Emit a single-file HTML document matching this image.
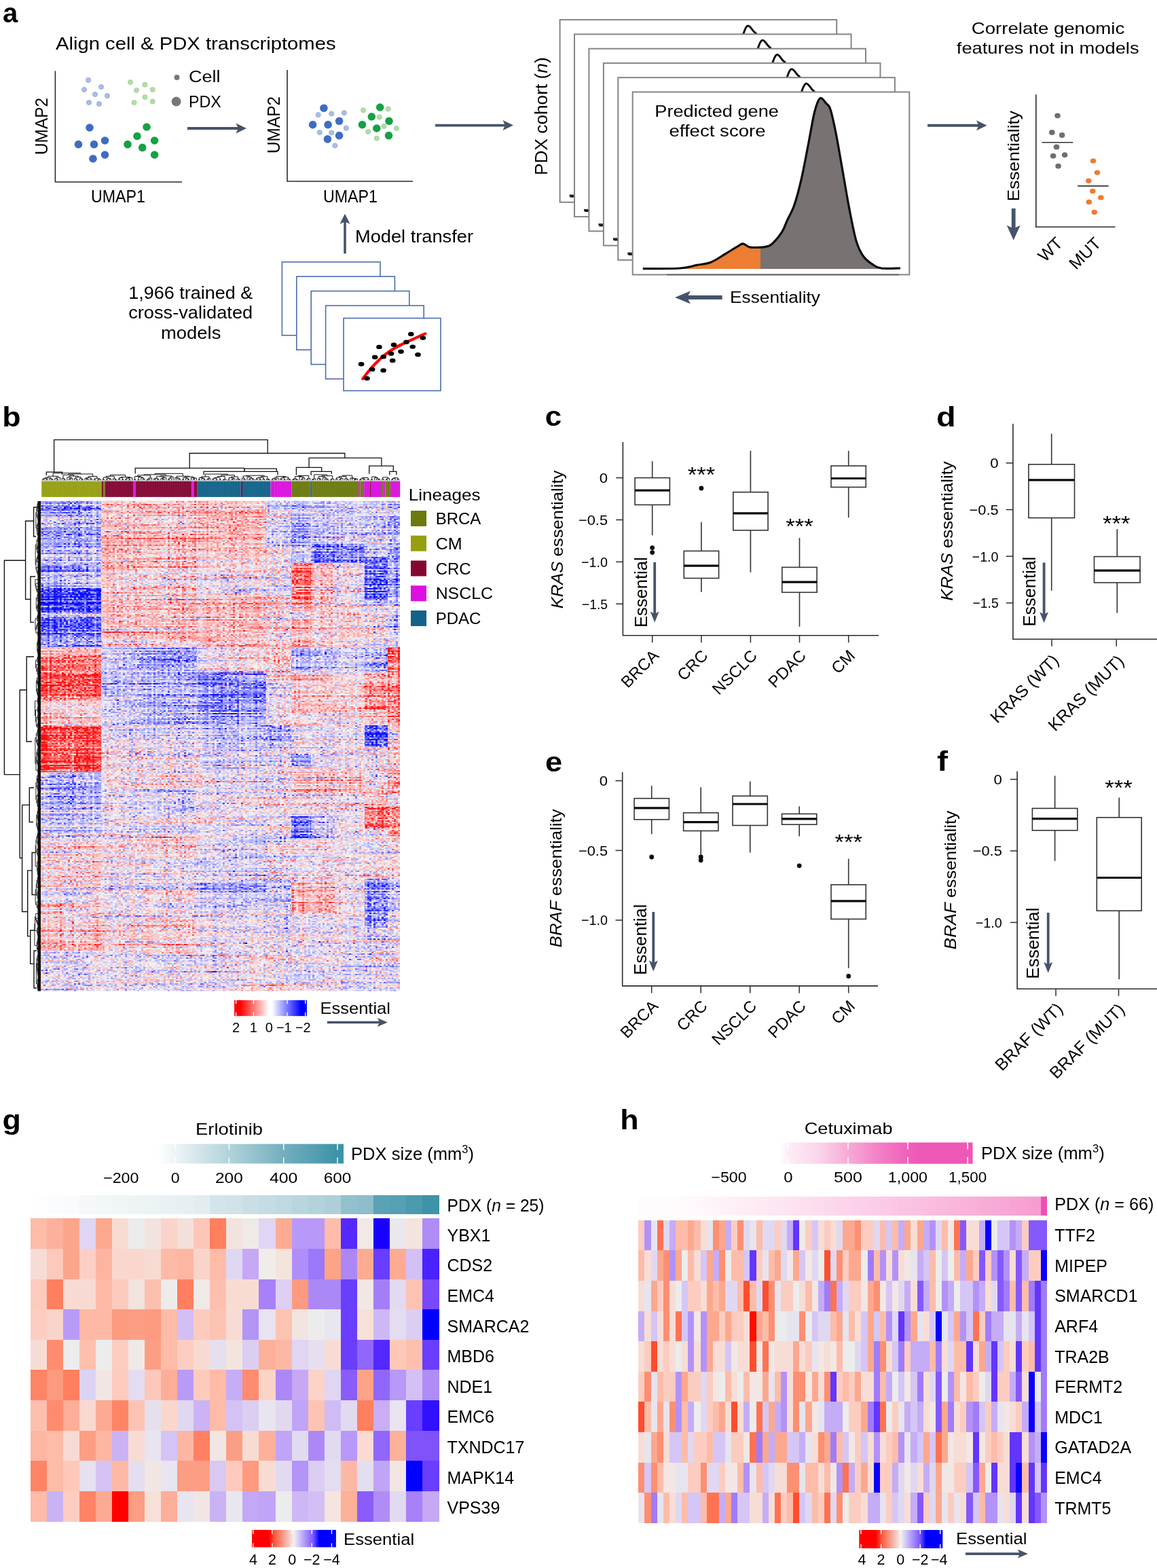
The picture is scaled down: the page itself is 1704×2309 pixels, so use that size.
<!DOCTYPE html>
<html><head><meta charset="utf-8"><title>Figure</title>
<style>html,body{margin:0;padding:0;background:#fff}svg{display:block}
text{font-family:'Liberation Sans', Arial, sans-serif}</style></head>
<body><svg width="1704" height="2309" viewBox="0 0 1704 2309">
<defs><clipPath id="orclip"><rect x="900" y="100" width="219.9" height="320"/></clipPath>
<filter id="hmf" x="56" y="733" width="537" height="731" filterUnits="userSpaceOnUse" color-interpolation-filters="sRGB">
<feTurbulence type="fractalNoise" baseFrequency="0.32 0.45" numOctaves="2" seed="7" result="n1"/>
<feTurbulence type="fractalNoise" baseFrequency="0.006 0.45" numOctaves="2" seed="11" result="n2"/>
<feTurbulence type="fractalNoise" baseFrequency="0.38 0.004" numOctaves="1" seed="4" result="n3"/>
<feComposite in="n1" in2="n2" operator="arithmetic" k2="0.55" k3="0.45" result="m1"/>
<feComposite in="m1" in2="n3" operator="arithmetic" k2="0.78" k3="0.22" result="m2"/>
<feColorMatrix in="m2" type="matrix" values="1 0 0 0 0  1 0 0 0 0  1 0 0 0 0  0 0 0 0 1" result="mg0"/>
<feFlood x="56" y="733" width="1" height="1" flood-color="#fff" flood-opacity="1" result="dot"/>
<feComposite in="dot" in2="dot" operator="over" x="56" y="733" width="3" height="2" result="cell"/>
<feTile in="cell" result="grid"/>
<feComposite in="mg0" in2="grid" operator="in" result="smp"/>
<feConvolveMatrix in="smp" order="3 2" kernelMatrix="1 1 1 1 1 1" divisor="1" targetX="1" targetY="0" edgeMode="none" result="mg"/>
<feComposite in="SourceGraphic" in2="mg" operator="arithmetic" k2="1" k3="2.0" k4="-1.0" result="v"/>
<feComponentTransfer in="v">
<feFuncR type="table" tableValues="0.05 0.6 0.96 1 1"/>
<feFuncG type="table" tableValues="0.05 0.6 0.96 0.6 0.05"/>
<feFuncB type="table" tableValues="1 1 0.96 0.6 0.05"/>
</feComponentTransfer>
</filter>
<clipPath id="hmclip"><rect x="60" y="737.4" width="529" height="722.1"/></clipPath>
<linearGradient id="gb" x1="0" x2="1" y1="0" y2="0">
<stop offset="0" stop-color="#ff0000"/><stop offset="0.08" stop-color="#ff0000"/><stop offset="0.48" stop-color="#ffffff"/>
<stop offset="0.52" stop-color="#ffffff"/><stop offset="0.92" stop-color="#0000ff"/><stop offset="1" stop-color="#0000ff"/></linearGradient>
<linearGradient id="gg" x1="0" x2="1" y1="0" y2="0">
<stop offset="0" stop-color="#ffffff"/><stop offset="0.097" stop-color="#edf4f6"/><stop offset="0.385" stop-color="#b2d3db"/>
<stop offset="0.677" stop-color="#74afbf"/><stop offset="0.965" stop-color="#3d93a8"/><stop offset="1" stop-color="#3d93a8"/></linearGradient>
<linearGradient id="gk" x1="0" x2="1" y1="0" y2="0">
<stop offset="0" stop-color="#ff0000"/><stop offset="0.2" stop-color="#ff0000"/><stop offset="0.27" stop-color="#fb5a3c"/>
<stop offset="0.5" stop-color="#f2f0f0"/><stop offset="0.73" stop-color="#7a55ff"/><stop offset="0.8" stop-color="#0000ff"/>
<stop offset="1" stop-color="#0000ff"/></linearGradient>
<linearGradient id="gh" x1="0" x2="1" y1="0" y2="0">
<stop offset="0" stop-color="#ffffff"/><stop offset="0.04" stop-color="#fdedf6"/><stop offset="0.2" stop-color="#fbd5ea"/>
<stop offset="0.352" stop-color="#f7aad7"/><stop offset="0.5" stop-color="#f383c8"/><stop offset="0.662" stop-color="#ef60b9"/>
<stop offset="0.72" stop-color="#ee58b7"/><stop offset="1" stop-color="#ee58b7"/></linearGradient></defs>
<rect width="1704" height="2309" fill="#fff"/>
<text transform="translate(4 33) scale(1.0 1)" x="0" y="0" font-size="40" font-weight="bold" fill="#000">a</text>
<text transform="translate(3.3 627.6) scale(1.12 1)" x="0" y="0" font-size="40" font-weight="bold" fill="#000">b</text>
<text transform="translate(802.8 627) scale(1.1 1)" x="0" y="0" font-size="40" font-weight="bold" fill="#000">c</text>
<text transform="translate(1379 628) scale(1.17 1)" x="0" y="0" font-size="40" font-weight="bold" fill="#000">d</text>
<text transform="translate(803.1 1136) scale(1.13 1)" x="0" y="0" font-size="40" font-weight="bold" fill="#000">e</text>
<text transform="translate(1380.1 1135.3) scale(1.2 1)" x="0" y="0" font-size="40" font-weight="bold" fill="#000">f</text>
<text transform="translate(3.5 1663) scale(1.12 1)" x="0" y="0" font-size="40" font-weight="bold" fill="#000">g</text>
<text transform="translate(913.3 1663) scale(1.12 1)" x="0" y="0" font-size="40" font-weight="bold" fill="#000">h</text>
<text x="82" y="72.6" font-size="26.4" textLength="412.6" lengthAdjust="spacingAndGlyphs">Align cell &amp; PDX transcriptomes</text>
<path d="M81.4 104.6V268H268" fill="none" stroke="#2b2b2b" stroke-width="1.6"/>
<text transform="translate(70 186) rotate(-90)" x="0" y="0" font-size="25" text-anchor="middle" textLength="84" lengthAdjust="spacingAndGlyphs">UMAP2</text>
<text x="174" y="298" font-size="25" text-anchor="middle" textLength="80" lengthAdjust="spacingAndGlyphs">UMAP1</text>
<circle cx="130" cy="118" r="3.6" fill="#aabde4" stroke="#8fa8d8" stroke-width="0.8"/>
<circle cx="149" cy="128" r="3.6" fill="#aabde4" stroke="#8fa8d8" stroke-width="0.8"/>
<circle cx="124" cy="132" r="3.6" fill="#aabde4" stroke="#8fa8d8" stroke-width="0.8"/>
<circle cx="140" cy="139" r="3.6" fill="#aabde4" stroke="#8fa8d8" stroke-width="0.8"/>
<circle cx="158" cy="141" r="3.6" fill="#aabde4" stroke="#8fa8d8" stroke-width="0.8"/>
<circle cx="131" cy="151" r="3.6" fill="#aabde4" stroke="#8fa8d8" stroke-width="0.8"/>
<circle cx="146" cy="153" r="3.6" fill="#aabde4" stroke="#8fa8d8" stroke-width="0.8"/>
<circle cx="192" cy="121" r="3.6" fill="#b4dca9" stroke="#9ccf8f" stroke-width="0.8"/>
<circle cx="213.5" cy="124.7" r="3.6" fill="#b4dca9" stroke="#9ccf8f" stroke-width="0.8"/>
<circle cx="224.7" cy="132" r="3.6" fill="#b4dca9" stroke="#9ccf8f" stroke-width="0.8"/>
<circle cx="201" cy="133" r="3.6" fill="#b4dca9" stroke="#9ccf8f" stroke-width="0.8"/>
<circle cx="213.5" cy="143" r="3.6" fill="#b4dca9" stroke="#9ccf8f" stroke-width="0.8"/>
<circle cx="197.6" cy="151" r="3.6" fill="#b4dca9" stroke="#9ccf8f" stroke-width="0.8"/>
<circle cx="224.7" cy="149.4" r="3.6" fill="#b4dca9" stroke="#9ccf8f" stroke-width="0.8"/>
<circle cx="132" cy="188" r="5.8" fill="#3f6bc3"/>
<circle cx="154.5" cy="207" r="5.8" fill="#3f6bc3"/>
<circle cx="115.5" cy="212.6" r="5.8" fill="#3f6bc3"/>
<circle cx="138.5" cy="212.6" r="5.8" fill="#3f6bc3"/>
<circle cx="154.5" cy="228" r="5.8" fill="#3f6bc3"/>
<circle cx="137" cy="233.7" r="5.8" fill="#3f6bc3"/>
<circle cx="216" cy="187" r="5.8" fill="#17a045"/>
<circle cx="202" cy="200.5" r="5.8" fill="#17a045"/>
<circle cx="227.6" cy="207" r="5.8" fill="#17a045"/>
<circle cx="188" cy="212.6" r="5.8" fill="#17a045"/>
<circle cx="209.7" cy="217.4" r="5.8" fill="#17a045"/>
<circle cx="227.6" cy="228" r="5.8" fill="#17a045"/>
<circle cx="260.5" cy="114" r="4" fill="#777"/>
<circle cx="259.6" cy="149.6" r="7" fill="#777"/>
<text x="278" y="120.5" font-size="24.4" textLength="46.5" lengthAdjust="spacingAndGlyphs">Cell</text>
<text x="278" y="158" font-size="24.4" textLength="47.7" lengthAdjust="spacingAndGlyphs">PDX</text>
<line x1="276" y1="189" x2="351.9" y2="189" stroke="#46536b" stroke-width="3.9"/>
<polygon points="363,189 347.5,196.5 350.9,189 347.5,181.5" fill="#46536b"/>
<path d="M423 103V267H608" fill="none" stroke="#2b2b2b" stroke-width="1.6"/>
<text transform="translate(411.5 184) rotate(-90)" x="0" y="0" font-size="25" text-anchor="middle" textLength="84" lengthAdjust="spacingAndGlyphs">UMAP2</text>
<text x="516" y="298" font-size="25" text-anchor="middle" textLength="80" lengthAdjust="spacingAndGlyphs">UMAP1</text>
<circle cx="468.6" cy="169.1" r="3.6" fill="#aabde4" stroke="#8fa8d8" stroke-width="0.8"/>
<circle cx="488.2" cy="167.4" r="3.6" fill="#aabde4" stroke="#8fa8d8" stroke-width="0.8"/>
<circle cx="506.9" cy="166.2" r="3.6" fill="#aabde4" stroke="#8fa8d8" stroke-width="0.8"/>
<circle cx="509.8" cy="188.7" r="3.6" fill="#aabde4" stroke="#8fa8d8" stroke-width="0.8"/>
<circle cx="470.8" cy="195" r="3.6" fill="#aabde4" stroke="#8fa8d8" stroke-width="0.8"/>
<circle cx="488.2" cy="195.5" r="3.6" fill="#aabde4" stroke="#8fa8d8" stroke-width="0.8"/>
<circle cx="493.3" cy="214.4" r="3.6" fill="#aabde4" stroke="#8fa8d8" stroke-width="0.8"/>
<circle cx="535" cy="162.3" r="3.6" fill="#b4dca9" stroke="#9ccf8f" stroke-width="0.8"/>
<circle cx="571.8" cy="160.4" r="3.6" fill="#b4dca9" stroke="#9ccf8f" stroke-width="0.8"/>
<circle cx="558.7" cy="172.5" r="3.6" fill="#b4dca9" stroke="#9ccf8f" stroke-width="0.8"/>
<circle cx="565.5" cy="186" r="3.6" fill="#b4dca9" stroke="#9ccf8f" stroke-width="0.8"/>
<circle cx="583.9" cy="189" r="3.6" fill="#b4dca9" stroke="#9ccf8f" stroke-width="0.8"/>
<circle cx="542.2" cy="194" r="3.6" fill="#b4dca9" stroke="#9ccf8f" stroke-width="0.8"/>
<circle cx="554.8" cy="203.7" r="3.6" fill="#b4dca9" stroke="#9ccf8f" stroke-width="0.8"/>
<circle cx="476.9" cy="159.2" r="5.8" fill="#3f6bc3"/>
<circle cx="460.6" cy="183.6" r="5.8" fill="#3f6bc3"/>
<circle cx="483.1" cy="183.6" r="5.8" fill="#3f6bc3"/>
<circle cx="499.6" cy="178.3" r="5.8" fill="#3f6bc3"/>
<circle cx="499.6" cy="199.6" r="5.8" fill="#3f6bc3"/>
<circle cx="482.4" cy="204.9" r="5.8" fill="#3f6bc3"/>
<circle cx="559.7" cy="158" r="5.8" fill="#17a045"/>
<circle cx="547.3" cy="171.8" r="5.8" fill="#17a045"/>
<circle cx="573" cy="178.3" r="5.8" fill="#17a045"/>
<circle cx="533.5" cy="183.6" r="5.8" fill="#17a045"/>
<circle cx="554.8" cy="189" r="5.8" fill="#17a045"/>
<circle cx="572.5" cy="199.6" r="5.8" fill="#17a045"/>
<line x1="641" y1="184.6" x2="744.9" y2="184.6" stroke="#46536b" stroke-width="3.9"/>
<polygon points="756,184.6 740.5,192.1 743.9,184.6 740.5,177.1" fill="#46536b"/>
<line x1="508" y1="373.5" x2="508" y2="325.5" stroke="#46536b" stroke-width="3.6"/>
<polygon points="508,314.8 515.5,329.8 508,326.5 500.5,329.8" fill="#46536b"/>
<text x="523" y="356.5" font-size="25" textLength="174" lengthAdjust="spacingAndGlyphs">Model transfer</text>
<text x="280.7" y="439.5" font-size="25" text-anchor="middle" textLength="183" lengthAdjust="spacingAndGlyphs">1,966 trained &amp;</text>
<text x="280.7" y="469" font-size="25" text-anchor="middle" textLength="183" lengthAdjust="spacingAndGlyphs">cross-validated</text>
<text x="281.2" y="498.5" font-size="25" text-anchor="middle" textLength="88.3" lengthAdjust="spacingAndGlyphs">models</text>
<rect x="415.4" y="385.8" width="144.6" height="108" fill="#fff" stroke="#4d6dad" stroke-width="1.6"/>
<rect x="436.8" y="407.2" width="144.6" height="108" fill="#fff" stroke="#4d6dad" stroke-width="1.6"/>
<rect x="458.2" y="428.6" width="144.6" height="108" fill="#fff" stroke="#4d6dad" stroke-width="1.6"/>
<rect x="479.6" y="450" width="144.6" height="108" fill="#fff" stroke="#4d6dad" stroke-width="1.6"/>
<rect x="506" y="468.6" width="143" height="106.8" fill="#fff" stroke="#4d6dad" stroke-width="1.6"/>
<path d="M534.3 557.8 Q560 522 590 508 T626.3 491.4" fill="none" stroke="#f00" stroke-width="4.2" stroke-linecap="round"/>
<ellipse cx="532.1" cy="536.2" rx="4.3" ry="3.2" fill="#000"/>
<ellipse cx="540.5" cy="557.2" rx="4.3" ry="3.2" fill="#000"/>
<ellipse cx="548.2" cy="543.9" rx="4.3" ry="3.2" fill="#000"/>
<ellipse cx="552.2" cy="526" rx="4.3" ry="3.2" fill="#000"/>
<ellipse cx="558.4" cy="510.9" rx="4.3" ry="3.2" fill="#000"/>
<ellipse cx="564.6" cy="545.4" rx="4.3" ry="3.2" fill="#000"/>
<ellipse cx="564.6" cy="525.4" rx="4.3" ry="3.2" fill="#000"/>
<ellipse cx="576" cy="520.7" rx="4.3" ry="3.2" fill="#000"/>
<ellipse cx="578.2" cy="530.9" rx="4.3" ry="3.2" fill="#000"/>
<ellipse cx="580" cy="507.8" rx="4.3" ry="3.2" fill="#000"/>
<ellipse cx="590.5" cy="517.7" rx="4.3" ry="3.2" fill="#000"/>
<ellipse cx="598.5" cy="503.8" rx="4.3" ry="3.2" fill="#000"/>
<ellipse cx="605.3" cy="492" rx="4.3" ry="3.2" fill="#000"/>
<ellipse cx="607.8" cy="510.6" rx="4.3" ry="3.2" fill="#000"/>
<ellipse cx="615.5" cy="522.3" rx="4.3" ry="3.2" fill="#000"/>
<ellipse cx="622.9" cy="497.6" rx="4.3" ry="3.2" fill="#000"/>
<rect x="824.6" y="29.1" width="407.6" height="268.7" fill="#fff" stroke="#858585" stroke-width="2"/>
<path d="M839.7 289.3C848.8 289.2 880.9 289.5 894.1 288.6C907.3 287.7 911.1 285.5 918.7 284C926.3 282.5 932.8 282.5 939.8 279.8C946.8 277.1 954.5 271.4 960.9 267.6C967.3 263.8 974 259.5 978.4 257C982.8 254.5 984 252.3 987.2 252.4C990.4 252.5 992.1 256.9 997.7 257.7C1003.2 258.5 1014.9 258 1020.5 257C1026 256 1026.9 255.5 1031 251.7C1035.1 247.9 1041.6 239.8 1045.1 234.2C1048.6 228.7 1049.2 224.8 1052.1 218.4C1055 212 1059.2 205.8 1062.7 195.6C1066.2 185.3 1069.7 172.1 1073.2 156.9C1076.7 141.7 1080.5 120.7 1083.7 104.3C1086.9 87.9 1089.7 69.6 1092.5 58.6C1095.3 47.6 1097.7 40.3 1100.6 38.3C1103.5 36.2 1107.5 43.5 1110.1 46.3C1112.7 49.1 1113.7 47.8 1116 55.1C1118.3 62.4 1121.3 76.1 1124.1 90.2C1126.9 104.2 1129.7 121.2 1132.9 139.4C1136.1 157.6 1139.9 181 1143.4 199.1C1146.9 217.2 1150.4 236.2 1153.9 248.2C1157.4 260.2 1160.4 265.2 1164.5 271.1C1168.6 277 1174.1 280.4 1178.5 283.3C1182.9 286.2 1184.1 287.7 1190.8 288.6C1197.5 289.5 1214.2 288.6 1218.9 288.6" fill="none" stroke="#111" stroke-width="3"/>
<line x1="838.6" y1="288.1" x2="845.1" y2="288.1" stroke="#222" stroke-width="3"/>
<rect x="846" y="50.4" width="407.6" height="268.7" fill="#fff" stroke="#858585" stroke-width="2"/>
<path d="M861.1 310.6C870.2 310.5 902.4 310.8 915.5 309.9C928.7 309 932.5 306.7 940.1 305.3C947.7 303.8 954.2 303.8 961.2 301.1C968.3 298.3 975.9 292.7 982.3 288.9C988.8 285.1 995.4 280.8 999.8 278.3C1004.2 275.7 1005.4 273.6 1008.6 273.7C1011.8 273.8 1013.6 278.2 1019.1 279C1024.7 279.7 1036.4 279.3 1041.9 278.3C1047.5 277.3 1048.3 276.8 1052.4 273C1056.5 269.2 1063 261 1066.5 255.5C1070 249.9 1070.6 246.1 1073.5 239.7C1076.5 233.2 1080.6 227.1 1084.1 216.9C1087.6 206.6 1091.1 193.4 1094.6 178.2C1098.1 163 1101.9 142 1105.1 125.6C1108.3 109.2 1111.1 90.9 1113.9 79.9C1116.7 68.9 1119.1 61.6 1122 59.6C1125 57.5 1129 64.8 1131.5 67.6C1134.1 70.4 1135.1 69.1 1137.4 76.4C1139.8 83.7 1142.7 97.4 1145.5 111.5C1148.3 125.5 1151.1 142.5 1154.3 160.7C1157.5 178.8 1161.3 202.2 1164.8 220.4C1168.3 238.5 1171.8 257.5 1175.3 269.5C1178.8 281.5 1181.8 286.5 1185.9 292.4C1190 298.2 1195.5 301.7 1199.9 304.6C1204.3 307.5 1205.5 309 1212.2 309.9C1219 310.8 1235.6 309.9 1240.3 309.9" fill="none" stroke="#111" stroke-width="3"/>
<line x1="860" y1="309.4" x2="866.5" y2="309.4" stroke="#222" stroke-width="3"/>
<rect x="867.4" y="71.7" width="407.6" height="268.7" fill="#fff" stroke="#858585" stroke-width="2"/>
<path d="M882.5 331.9C891.6 331.7 923.8 332 936.9 331.2C950.1 330.3 953.9 328 961.5 326.6C969.2 325.1 975.6 325.1 982.6 322.4C989.7 319.6 997.3 314 1003.7 310.2C1010.2 306.4 1016.9 302.1 1021.2 299.6C1025.6 297 1026.8 294.8 1030 295C1033.3 295.1 1035 299.5 1040.5 300.3C1046.1 301 1057.8 300.6 1063.3 299.6C1068.9 298.6 1069.7 298.1 1073.8 294.3C1077.9 290.5 1084.4 282.3 1087.9 276.8C1091.5 271.2 1092 267.4 1094.9 261C1097.9 254.5 1102 248.4 1105.5 238.2C1109.1 227.9 1112.5 214.7 1116 199.5C1119.5 184.2 1123.3 163.2 1126.5 146.9C1129.8 130.5 1132.5 112.2 1135.3 101.2C1138.2 90.2 1140.5 82.9 1143.4 80.9C1146.4 78.8 1150.4 86.1 1152.9 88.9C1155.5 91.7 1156.5 90.3 1158.8 97.7C1161.2 105 1164.1 118.7 1166.9 132.8C1169.8 146.8 1172.5 163.8 1175.7 182C1179 200.1 1182.7 223.5 1186.2 241.7C1189.7 259.8 1193.2 278.8 1196.7 290.8C1200.3 302.8 1203.2 307.8 1207.3 313.7C1211.4 319.5 1217 322.9 1221.3 325.9C1225.7 328.8 1226.9 330.3 1233.6 331.2C1240.4 332 1257.1 331.2 1261.7 331.2" fill="none" stroke="#111" stroke-width="3"/>
<line x1="881.4" y1="330.7" x2="887.9" y2="330.7" stroke="#222" stroke-width="3"/>
<rect x="888.9" y="92.9" width="407.6" height="268.7" fill="#fff" stroke="#858585" stroke-width="2"/>
<path d="M904 353.1C913 353 945.2 353.3 958.4 352.4C971.5 351.6 975.3 349.3 983 347.8C990.6 346.4 997 346.4 1004.1 343.6C1011.1 340.9 1018.7 335.2 1025.2 331.4C1031.6 327.6 1038.3 323.4 1042.7 320.8C1047 318.3 1048.2 316.1 1051.5 316.2C1054.7 316.4 1056.4 320.8 1062 321.5C1067.5 322.3 1079.2 321.8 1084.8 320.8C1090.3 319.8 1091.2 319.3 1095.3 315.5C1099.4 311.7 1105.8 303.6 1109.4 298C1112.9 292.5 1113.4 288.7 1116.4 282.2C1119.3 275.8 1123.4 269.7 1127 259.4C1130.5 249.2 1134 236 1137.5 220.7C1141 205.5 1144.7 184.5 1148 168.1C1151.2 151.8 1153.9 133.4 1156.8 122.4C1159.6 111.4 1161.9 104.2 1164.9 102.1C1167.8 100.1 1171.8 107.3 1174.4 110.1C1176.9 112.9 1177.9 111.6 1180.3 118.9C1182.6 126.3 1185.5 140 1188.4 154C1191.2 168.1 1193.9 185.1 1197.2 203.2C1200.4 221.4 1204.2 244.8 1207.7 262.9C1211.2 281.1 1214.6 300 1218.2 312C1221.7 324 1224.7 329.1 1228.8 334.9C1232.9 340.8 1238.4 344.2 1242.8 347.1C1247.1 350.1 1248.3 351.6 1255.1 352.4C1261.8 353.3 1278.5 352.4 1283.2 352.4" fill="none" stroke="#111" stroke-width="3"/>
<line x1="902.9" y1="351.9" x2="909.4" y2="351.9" stroke="#222" stroke-width="3"/>
<rect x="910.3" y="114.2" width="407.6" height="268.7" fill="#fff" stroke="#858585" stroke-width="2"/>
<path d="M925.4 374.4C934.4 374.3 966.6 374.6 979.8 373.7C992.9 372.8 996.8 370.6 1004.4 369.1C1012 367.7 1018.4 367.7 1025.5 364.9C1032.5 362.2 1040.1 356.5 1046.6 352.7C1053 348.9 1059.7 344.7 1064.1 342.1C1068.5 339.6 1069.7 337.4 1072.9 337.5C1076.1 337.6 1077.8 342.1 1083.4 342.8C1088.9 343.6 1100.6 343.1 1106.2 342.1C1111.7 341.1 1112.6 340.6 1116.7 336.8C1120.8 333 1127.3 324.9 1130.8 319.3C1134.3 313.8 1134.8 310 1137.8 303.5C1140.7 297.1 1144.9 291 1148.4 280.7C1151.9 270.5 1155.4 257.2 1158.9 242C1162.4 226.8 1166.2 205.8 1169.4 189.4C1172.6 173 1175.4 154.7 1178.2 143.7C1181 132.7 1183.3 125.5 1186.3 123.4C1189.2 121.4 1193.2 128.6 1195.8 131.4C1198.3 134.2 1199.3 132.9 1201.7 140.2C1204 147.5 1207 161.3 1209.8 175.3C1212.6 189.4 1215.4 206.4 1218.6 224.5C1221.8 242.7 1225.6 266.1 1229.1 284.2C1232.6 302.4 1236.1 321.3 1239.6 333.3C1243.1 345.3 1246.1 350.4 1250.2 356.2C1254.3 362.1 1259.8 365.5 1264.2 368.4C1268.6 371.3 1269.7 372.8 1276.5 373.7C1283.2 374.6 1299.9 373.7 1304.6 373.7" fill="none" stroke="#111" stroke-width="3"/>
<line x1="924.3" y1="373.2" x2="930.8" y2="373.2" stroke="#222" stroke-width="3"/>
<rect x="931.7" y="135.5" width="407.6" height="269" fill="#fff" stroke="#858585" stroke-width="2"/>
<path d="M946.8 395.7C955.9 395.6 988 395.9 1001.2 395C1014.4 394.1 1018.2 391.9 1025.8 390.4C1033.4 388.9 1039.9 388.9 1046.9 386.2C1053.9 383.5 1061.6 377.8 1068 374C1074.4 370.2 1081.1 365.9 1085.5 363.4C1089.9 360.9 1091.1 358.7 1094.3 358.8C1097.5 358.9 1099.2 363.3 1104.8 364.1C1110.3 364.9 1122 364.4 1127.6 363.4C1133.1 362.4 1134 361.9 1138.1 358.1C1142.2 354.3 1148.7 346.2 1152.2 340.6C1155.7 335.1 1156.3 331.2 1159.2 324.8C1162.1 318.4 1166.3 312.2 1169.8 302C1173.3 291.8 1176.8 278.5 1180.3 263.3C1183.8 248.1 1187.6 227.1 1190.8 210.7C1194 194.3 1196.8 176 1199.6 165C1202.4 154 1204.8 146.8 1207.7 144.7C1210.6 142.6 1214.6 149.9 1217.2 152.7C1219.8 155.5 1220.8 154.2 1223.1 161.5C1225.4 168.8 1228.4 182.5 1231.2 196.6C1234 210.7 1236.8 227.7 1240 245.8C1243.2 263.9 1247 287.4 1250.5 305.5C1254 323.6 1257.5 342.6 1261 354.6C1264.5 366.6 1267.5 371.6 1271.6 377.5C1275.7 383.4 1281.2 386.8 1285.6 389.7C1290 392.6 1291.2 394.1 1297.9 395C1304.6 395.9 1321.3 395 1326 395L1326 396L946.8 396Z" fill="#787272"/>
<path d="M946.8 395.7C955.9 395.6 988 395.9 1001.2 395C1014.4 394.1 1018.2 391.9 1025.8 390.4C1033.4 388.9 1039.9 388.9 1046.9 386.2C1053.9 383.5 1061.6 377.8 1068 374C1074.4 370.2 1081.1 365.9 1085.5 363.4C1089.9 360.9 1091.1 358.7 1094.3 358.8C1097.5 358.9 1099.2 363.3 1104.8 364.1C1110.3 364.9 1122 364.4 1127.6 363.4C1133.1 362.4 1134 361.9 1138.1 358.1C1142.2 354.3 1148.7 346.2 1152.2 340.6C1155.7 335.1 1156.3 331.2 1159.2 324.8C1162.1 318.4 1166.3 312.2 1169.8 302C1173.3 291.8 1176.8 278.5 1180.3 263.3C1183.8 248.1 1187.6 227.1 1190.8 210.7C1194 194.3 1196.8 176 1199.6 165C1202.4 154 1204.8 146.8 1207.7 144.7C1210.6 142.6 1214.6 149.9 1217.2 152.7C1219.8 155.5 1220.8 154.2 1223.1 161.5C1225.4 168.8 1228.4 182.5 1231.2 196.6C1234 210.7 1236.8 227.7 1240 245.8C1243.2 263.9 1247 287.4 1250.5 305.5C1254 323.6 1257.5 342.6 1261 354.6C1264.5 366.6 1267.5 371.6 1271.6 377.5C1275.7 383.4 1281.2 386.8 1285.6 389.7C1290 392.6 1291.2 394.1 1297.9 395C1304.6 395.9 1321.3 395 1326 395L1326 396L946.8 396Z" fill="#ec7d32" clip-path="url(#orclip)"/>
<path d="M946.8 395.7C955.9 395.6 988 395.9 1001.2 395C1014.4 394.1 1018.2 391.9 1025.8 390.4C1033.4 388.9 1039.9 388.9 1046.9 386.2C1053.9 383.5 1061.6 377.8 1068 374C1074.4 370.2 1081.1 365.9 1085.5 363.4C1089.9 360.9 1091.1 358.7 1094.3 358.8C1097.5 358.9 1099.2 363.3 1104.8 364.1C1110.3 364.9 1122 364.4 1127.6 363.4C1133.1 362.4 1134 361.9 1138.1 358.1C1142.2 354.3 1148.7 346.2 1152.2 340.6C1155.7 335.1 1156.3 331.2 1159.2 324.8C1162.1 318.4 1166.3 312.2 1169.8 302C1173.3 291.8 1176.8 278.5 1180.3 263.3C1183.8 248.1 1187.6 227.1 1190.8 210.7C1194 194.3 1196.8 176 1199.6 165C1202.4 154 1204.8 146.8 1207.7 144.7C1210.6 142.6 1214.6 149.9 1217.2 152.7C1219.8 155.5 1220.8 154.2 1223.1 161.5C1225.4 168.8 1228.4 182.5 1231.2 196.6C1234 210.7 1236.8 227.7 1240 245.8C1243.2 263.9 1247 287.4 1250.5 305.5C1254 323.6 1257.5 342.6 1261 354.6C1264.5 366.6 1267.5 371.6 1271.6 377.5C1275.7 383.4 1281.2 386.8 1285.6 389.7C1290 392.6 1291.2 394.1 1297.9 395C1304.6 395.9 1321.3 395 1326 395" fill="none" stroke="#0d0d0d" stroke-width="3.2" stroke-linejoin="round"/>
<line x1="982" y1="404.5" x2="1324" y2="404.5" stroke="#555" stroke-width="1.5"/>
<text x="1055.6" y="172" font-size="23.3" text-anchor="middle" textLength="182.6" lengthAdjust="spacingAndGlyphs">Predicted gene</text>
<text x="1056.5" y="200.8" font-size="23.3" text-anchor="middle" textLength="142.2" lengthAdjust="spacingAndGlyphs">effect score</text>
<text transform="translate(806 171.2) rotate(-90)" x="0" y="0" font-size="25" text-anchor="middle" textLength="173.8" lengthAdjust="spacingAndGlyphs">PDX cohort (<tspan font-style="italic">n</tspan>)</text>
<line x1="1063.7" y1="438" x2="1010.9" y2="438" stroke="#46536b" stroke-width="5.8"/>
<polygon points="994,438 1017,428.5 1011.9,438 1017,447.5" fill="#46536b"/>
<text x="1075" y="446" font-size="24.5" textLength="133" lengthAdjust="spacingAndGlyphs">Essentiality</text>
<text x="1543.5" y="49.6" font-size="24" text-anchor="middle" textLength="225.4" lengthAdjust="spacingAndGlyphs">Correlate genomic</text>
<text x="1543.2" y="79.3" font-size="24" text-anchor="middle" textLength="268.8" lengthAdjust="spacingAndGlyphs">features not in models</text>
<line x1="1366" y1="184.7" x2="1442.4" y2="184.7" stroke="#46536b" stroke-width="3.9"/>
<polygon points="1453.5,184.7 1438,192.2 1441.4,184.7 1438,177.2" fill="#46536b"/>
<path d="M1525.8 139.3V334.3H1642.6" fill="none" stroke="#2b2b2b" stroke-width="1.6"/>
<text transform="translate(1500.5 229.7) rotate(-90)" x="0" y="0" font-size="24.5" text-anchor="middle" textLength="133.4" lengthAdjust="spacingAndGlyphs">Essentiality</text>
<line x1="1492.7" y1="307" x2="1492.7" y2="337.5" stroke="#46536b" stroke-width="5.8"/>
<polygon points="1492.7,353.7 1482.7,331.7 1492.7,336.5 1502.7,331.7" fill="#46536b"/>
<ellipse cx="1557.5" cy="170.3" rx="4.3" ry="3.9" fill="#6f6f6f"/>
<ellipse cx="1549.3" cy="195" rx="4.3" ry="3.9" fill="#6f6f6f"/>
<ellipse cx="1564.1" cy="199" rx="4.3" ry="3.9" fill="#6f6f6f"/>
<ellipse cx="1556" cy="216.4" rx="4.3" ry="3.9" fill="#6f6f6f"/>
<ellipse cx="1551.1" cy="229.6" rx="4.3" ry="3.9" fill="#6f6f6f"/>
<ellipse cx="1568.1" cy="228.1" rx="4.3" ry="3.9" fill="#6f6f6f"/>
<ellipse cx="1558.6" cy="244.6" rx="4.3" ry="3.9" fill="#6f6f6f"/>
<line x1="1534.4" y1="209.8" x2="1580.2" y2="209.8" stroke="#333" stroke-width="1.6"/>
<ellipse cx="1610" cy="236.9" rx="4.3" ry="3.7" fill="#ec7d32"/>
<ellipse cx="1615.9" cy="254.1" rx="4.3" ry="3.7" fill="#ec7d32"/>
<ellipse cx="1603.3" cy="266.2" rx="4.3" ry="3.7" fill="#ec7d32"/>
<ellipse cx="1609.3" cy="281.4" rx="4.3" ry="3.7" fill="#ec7d32"/>
<ellipse cx="1621.4" cy="290.9" rx="4.3" ry="3.7" fill="#ec7d32"/>
<ellipse cx="1603.8" cy="297.5" rx="4.3" ry="3.7" fill="#ec7d32"/>
<ellipse cx="1611.7" cy="312.5" rx="4.3" ry="3.7" fill="#ec7d32"/>
<line x1="1587.2" y1="273.9" x2="1632.6" y2="273.9" stroke="#333" stroke-width="1.6"/>
<text transform="translate(1566.5 359.6) rotate(-45)" x="0" y="0" font-size="25" text-anchor="end">WT</text>
<text transform="translate(1623 360) rotate(-45)" x="0" y="0" font-size="25" text-anchor="end">MUT</text>
<g clip-path="url(#hmclip)"><g filter="url(#hmf)"><rect x="56" y="733.4" width="537" height="730.1" fill="#808080"/><rect x="60" y="737.4" width="89.5" height="32.6" fill="#575757"/><rect x="60" y="770" width="89.5" height="36" fill="#4f4f4f"/><rect x="60" y="806" width="89.5" height="26" fill="#676767"/><rect x="60" y="832" width="89.5" height="10" fill="#3e3e3e"/><rect x="60" y="842" width="89.5" height="24" fill="#5f5f5f"/><rect x="60" y="866" width="89.5" height="36" fill="#151515"/><rect x="60" y="902" width="89.5" height="7" fill="#4f4f4f"/><rect x="60" y="909" width="89.5" height="29" fill="#262626"/><rect x="60" y="938" width="89.5" height="15" fill="#464646"/><rect x="60" y="953" width="89.5" height="13" fill="#a0a0a0"/><rect x="60" y="966" width="89.5" height="24" fill="#c1c1c1"/><rect x="60" y="990" width="89.5" height="35" fill="#e1e1e1"/><rect x="60" y="1025" width="89.5" height="7" fill="#b0b0b0"/><rect x="60" y="1032" width="89.5" height="36" fill="#909090"/><rect x="60" y="1068" width="89.5" height="69" fill="#d9d9d9"/><rect x="60" y="1137" width="89.5" height="56" fill="#4f4f4f"/><rect x="60" y="1193" width="89.5" height="41" fill="#5f5f5f"/><rect x="60" y="1234" width="89.5" height="56" fill="#989898"/><rect x="60" y="1290" width="89.5" height="50" fill="#909090"/><rect x="60" y="1340" width="89.5" height="25" fill="#989898"/><rect x="60" y="1365" width="89.5" height="35" fill="#b0b0b0"/><rect x="60" y="1400" width="89.5" height="30" fill="#777777"/><rect x="60" y="1430" width="89.5" height="29.5" fill="#777777"/><rect x="149.5" y="737.4" width="47.5" height="50.6" fill="#989898"/><rect x="149.5" y="788" width="47.5" height="18" fill="#b0b0b0"/><rect x="149.5" y="806" width="47.5" height="36" fill="#a8a8a8"/><rect x="149.5" y="842" width="47.5" height="34" fill="#949494"/><rect x="149.5" y="876" width="47.5" height="65" fill="#a0a0a0"/><rect x="149.5" y="941" width="47.5" height="12" fill="#888888"/><rect x="149.5" y="953" width="47.5" height="37" fill="#676767"/><rect x="149.5" y="990" width="47.5" height="35" fill="#575757"/><rect x="149.5" y="1025" width="47.5" height="43" fill="#676767"/><rect x="149.5" y="1068" width="47.5" height="32" fill="#6f6f6f"/><rect x="149.5" y="1100" width="47.5" height="60" fill="#848484"/><rect x="149.5" y="1160" width="47.5" height="66" fill="#777777"/><rect x="149.5" y="1226" width="47.5" height="49" fill="#888888"/><rect x="149.5" y="1275" width="47.5" height="32" fill="#777777"/><rect x="149.5" y="1307" width="47.5" height="49" fill="#808080"/><rect x="149.5" y="1356" width="47.5" height="49" fill="#909090"/><rect x="149.5" y="1405" width="47.5" height="54.5" fill="#777777"/><rect x="197" y="737.4" width="93" height="50.6" fill="#9c9c9c"/><rect x="197" y="788" width="93" height="18" fill="#b0b0b0"/><rect x="197" y="806" width="93" height="36" fill="#a4a4a4"/><rect x="197" y="842" width="93" height="34" fill="#989898"/><rect x="197" y="876" width="93" height="65" fill="#a8a8a8"/><rect x="197" y="941" width="93" height="12" fill="#888888"/><rect x="197" y="953" width="93" height="37" fill="#575757"/><rect x="197" y="990" width="93" height="35" fill="#4f4f4f"/><rect x="197" y="1025" width="93" height="43" fill="#5f5f5f"/><rect x="197" y="1068" width="93" height="32" fill="#6f6f6f"/><rect x="197" y="1100" width="93" height="60" fill="#848484"/><rect x="197" y="1160" width="93" height="66" fill="#737373"/><rect x="197" y="1226" width="93" height="49" fill="#888888"/><rect x="197" y="1275" width="93" height="32" fill="#737373"/><rect x="197" y="1307" width="93" height="49" fill="#808080"/><rect x="197" y="1356" width="93" height="49" fill="#909090"/><rect x="197" y="1405" width="93" height="54.5" fill="#777777"/><rect x="290" y="737.4" width="102" height="71.6" fill="#a8a8a8"/><rect x="290" y="809" width="102" height="15" fill="#989898"/><rect x="290" y="824" width="102" height="19" fill="#8c8c8c"/><rect x="290" y="843" width="102" height="36" fill="#808080"/><rect x="290" y="879" width="102" height="74" fill="#a4a4a4"/><rect x="290" y="953" width="102" height="37" fill="#888888"/><rect x="290" y="990" width="102" height="58" fill="#3e3e3e"/><rect x="290" y="1048" width="102" height="20" fill="#4f4f4f"/><rect x="290" y="1068" width="102" height="32" fill="#5f5f5f"/><rect x="290" y="1100" width="102" height="36" fill="#6f6f6f"/><rect x="290" y="1136" width="102" height="95" fill="#7b7b7b"/><rect x="290" y="1231" width="102" height="60" fill="#6f6f6f"/><rect x="290" y="1291" width="102" height="9" fill="#6f6f6f"/><rect x="290" y="1300" width="102" height="15" fill="#464646"/><rect x="290" y="1315" width="102" height="25" fill="#6f6f6f"/><rect x="290" y="1340" width="102" height="49" fill="#808080"/><rect x="290" y="1389" width="102" height="70.5" fill="#7b7b7b"/><rect x="392" y="737.4" width="37" height="71.6" fill="#6f6f6f"/><rect x="392" y="809" width="37" height="15" fill="#808080"/><rect x="392" y="824" width="37" height="19" fill="#808080"/><rect x="392" y="843" width="37" height="36" fill="#6f6f6f"/><rect x="392" y="879" width="37" height="74" fill="#8c8c8c"/><rect x="392" y="953" width="37" height="44" fill="#909090"/><rect x="392" y="997" width="37" height="71" fill="#808080"/><rect x="392" y="1068" width="37" height="32" fill="#575757"/><rect x="392" y="1100" width="37" height="36" fill="#808080"/><rect x="392" y="1136" width="37" height="32" fill="#888888"/><rect x="392" y="1168" width="37" height="18" fill="#808080"/><rect x="392" y="1186" width="37" height="45" fill="#888888"/><rect x="392" y="1231" width="37" height="60" fill="#808080"/><rect x="392" y="1291" width="37" height="49" fill="#636363"/><rect x="392" y="1340" width="37" height="49" fill="#6f6f6f"/><rect x="392" y="1389" width="37" height="70.5" fill="#777777"/><rect x="429" y="737.4" width="29" height="20.6" fill="#5f5f5f"/><rect x="429" y="758" width="29" height="43" fill="#464646"/><rect x="429" y="801" width="29" height="28" fill="#575757"/><rect x="429" y="829" width="29" height="55" fill="#c1c1c1"/><rect x="429" y="884" width="29" height="16" fill="#a8a8a8"/><rect x="429" y="900" width="29" height="10" fill="#6f6f6f"/><rect x="429" y="910" width="29" height="43" fill="#a8a8a8"/><rect x="429" y="953" width="29" height="37" fill="#464646"/><rect x="429" y="990" width="29" height="25" fill="#989898"/><rect x="429" y="1015" width="29" height="35" fill="#a0a0a0"/><rect x="429" y="1050" width="29" height="60" fill="#808080"/><rect x="429" y="1110" width="29" height="18" fill="#4f4f4f"/><rect x="429" y="1128" width="29" height="9" fill="#808080"/><rect x="429" y="1137" width="29" height="33" fill="#b0b0b0"/><rect x="429" y="1170" width="29" height="32" fill="#808080"/><rect x="429" y="1202" width="29" height="32" fill="#363636"/><rect x="429" y="1234" width="29" height="64" fill="#808080"/><rect x="429" y="1298" width="29" height="46" fill="#b0b0b0"/><rect x="429" y="1344" width="29" height="45" fill="#808080"/><rect x="429" y="1389" width="29" height="70.5" fill="#777777"/><rect x="458" y="737.4" width="35" height="63.6" fill="#636363"/><rect x="458" y="801" width="35" height="28" fill="#2e2e2e"/><rect x="458" y="829" width="35" height="55" fill="#989898"/><rect x="458" y="884" width="35" height="69" fill="#909090"/><rect x="458" y="953" width="35" height="37" fill="#575757"/><rect x="458" y="990" width="35" height="60" fill="#a0a0a0"/><rect x="458" y="1050" width="35" height="87" fill="#808080"/><rect x="458" y="1137" width="35" height="33" fill="#a8a8a8"/><rect x="458" y="1170" width="35" height="32" fill="#808080"/><rect x="458" y="1202" width="35" height="32" fill="#676767"/><rect x="458" y="1234" width="35" height="64" fill="#808080"/><rect x="458" y="1298" width="35" height="46" fill="#a8a8a8"/><rect x="458" y="1344" width="35" height="45" fill="#777777"/><rect x="458" y="1389" width="35" height="70.5" fill="#777777"/><rect x="493" y="737.4" width="44" height="63.6" fill="#676767"/><rect x="493" y="801" width="44" height="28" fill="#363636"/><rect x="493" y="829" width="44" height="55" fill="#808080"/><rect x="493" y="884" width="44" height="69" fill="#909090"/><rect x="493" y="953" width="44" height="37" fill="#676767"/><rect x="493" y="990" width="44" height="60" fill="#909090"/><rect x="493" y="1050" width="44" height="87" fill="#808080"/><rect x="493" y="1137" width="44" height="33" fill="#a0a0a0"/><rect x="493" y="1170" width="44" height="61" fill="#808080"/><rect x="493" y="1231" width="44" height="60" fill="#808080"/><rect x="493" y="1291" width="44" height="98" fill="#808080"/><rect x="493" y="1389" width="44" height="70.5" fill="#777777"/><rect x="537" y="737.4" width="34" height="82.6" fill="#676767"/><rect x="537" y="820" width="34" height="64" fill="#2e2e2e"/><rect x="537" y="884" width="34" height="69" fill="#808080"/><rect x="537" y="953" width="34" height="37" fill="#4f4f4f"/><rect x="537" y="990" width="34" height="48" fill="#b0b0b0"/><rect x="537" y="1038" width="34" height="7" fill="#d1d1d1"/><rect x="537" y="1045" width="34" height="23" fill="#909090"/><rect x="537" y="1068" width="34" height="32" fill="#262626"/><rect x="537" y="1100" width="34" height="60" fill="#808080"/><rect x="537" y="1160" width="34" height="28" fill="#a8a8a8"/><rect x="537" y="1188" width="34" height="32" fill="#d1d1d1"/><rect x="537" y="1220" width="34" height="74" fill="#808080"/><rect x="537" y="1294" width="34" height="69" fill="#363636"/><rect x="537" y="1363" width="34" height="37" fill="#676767"/><rect x="537" y="1400" width="34" height="59.5" fill="#808080"/><rect x="571" y="737.4" width="18" height="71.6" fill="#575757"/><rect x="571" y="809" width="18" height="15" fill="#464646"/><rect x="571" y="824" width="18" height="19" fill="#4f4f4f"/><rect x="571" y="843" width="18" height="36" fill="#464646"/><rect x="571" y="879" width="18" height="26" fill="#6f6f6f"/><rect x="571" y="905" width="18" height="30" fill="#4f4f4f"/><rect x="571" y="935" width="18" height="18" fill="#777777"/><rect x="571" y="953" width="18" height="37" fill="#c9c9c9"/><rect x="571" y="990" width="18" height="78" fill="#b9b9b9"/><rect x="571" y="1068" width="18" height="32" fill="#888888"/><rect x="571" y="1100" width="18" height="36" fill="#989898"/><rect x="571" y="1136" width="18" height="32" fill="#b0b0b0"/><rect x="571" y="1168" width="18" height="18" fill="#808080"/><rect x="571" y="1186" width="18" height="45" fill="#c1c1c1"/><rect x="571" y="1231" width="18" height="60" fill="#888888"/><rect x="571" y="1291" width="18" height="49" fill="#5f5f5f"/><rect x="571" y="1340" width="18" height="49" fill="#808080"/><rect x="571" y="1389" width="18" height="70.5" fill="#808080"/></g></g>
<rect x="61.2" y="708.5" width="88.5" height="23.4" fill="#959f10"/>
<rect x="149.7" y="708.5" width="2.8" height="23.4" fill="#830633"/>
<rect x="152.5" y="708.5" width="2.2" height="23.4" fill="#6c790c"/>
<rect x="154.7" y="708.5" width="41.4" height="23.4" fill="#830633"/>
<rect x="196.1" y="708.5" width="3.4" height="23.4" fill="#dc10e0"/>
<rect x="199.5" y="708.5" width="83" height="23.4" fill="#830633"/>
<rect x="282.5" y="708.5" width="3.4" height="23.4" fill="#dc10e0"/>
<rect x="285.9" y="708.5" width="4.8" height="23.4" fill="#830633"/>
<rect x="290.7" y="708.5" width="64" height="23.4" fill="#12628a"/>
<rect x="354.7" y="708.5" width="2.3" height="23.4" fill="#830633"/>
<rect x="357" y="708.5" width="41.5" height="23.4" fill="#12628a"/>
<rect x="398.5" y="708.5" width="3.7" height="23.4" fill="#dc10e0"/>
<rect x="402.2" y="708.5" width="1.4" height="23.4" fill="#830633"/>
<rect x="403.6" y="708.5" width="25.7" height="23.4" fill="#dc10e0"/>
<rect x="429.3" y="708.5" width="28" height="23.4" fill="#6c790c"/>
<rect x="457.3" y="708.5" width="2.5" height="23.4" fill="#12628a"/>
<rect x="459.8" y="708.5" width="68.3" height="23.4" fill="#6c790c"/>
<rect x="528.1" y="708.5" width="2.6" height="23.4" fill="#dc10e0"/>
<rect x="530.7" y="708.5" width="5.4" height="23.4" fill="#6c790c"/>
<rect x="536.1" y="708.5" width="9" height="23.4" fill="#dc10e0"/>
<rect x="545.1" y="708.5" width="1.7" height="23.4" fill="#830633"/>
<rect x="546.8" y="708.5" width="14.2" height="23.4" fill="#dc10e0"/>
<rect x="561" y="708.5" width="3.1" height="23.4" fill="#6c790c"/>
<rect x="564.1" y="708.5" width="3.4" height="23.4" fill="#dc10e0"/>
<rect x="567.5" y="708.5" width="7.6" height="23.4" fill="#6c790c"/>
<rect x="575.1" y="708.5" width="14.1" height="23.4" fill="#dc10e0"/>
<path d="M62.5 708.5v23.4M65.1 708.5v23.4M67.7 708.5v23.4M70.4 708.5v23.4M73 708.5v23.4M75.6 708.5v23.4M78.2 708.5v23.4M80.8 708.5v23.4M83.5 708.5v23.4M86.1 708.5v23.4M88.7 708.5v23.4M91.3 708.5v23.4M93.9 708.5v23.4M96.6 708.5v23.4M99.2 708.5v23.4M101.8 708.5v23.4M104.4 708.5v23.4M107 708.5v23.4M109.7 708.5v23.4M112.3 708.5v23.4M114.9 708.5v23.4M117.5 708.5v23.4M120.1 708.5v23.4M122.8 708.5v23.4M125.4 708.5v23.4M128 708.5v23.4M130.6 708.5v23.4M133.2 708.5v23.4M135.9 708.5v23.4M138.5 708.5v23.4M141.1 708.5v23.4M143.7 708.5v23.4M146.3 708.5v23.4M149 708.5v23.4M151.6 708.5v23.4M154.2 708.5v23.4M156.8 708.5v23.4M159.4 708.5v23.4M162.1 708.5v23.4M164.7 708.5v23.4M167.3 708.5v23.4M169.9 708.5v23.4M172.5 708.5v23.4M175.2 708.5v23.4M177.8 708.5v23.4M180.4 708.5v23.4M183 708.5v23.4M185.6 708.5v23.4M188.3 708.5v23.4M190.9 708.5v23.4M193.5 708.5v23.4M196.1 708.5v23.4M198.7 708.5v23.4M201.4 708.5v23.4M204 708.5v23.4M206.6 708.5v23.4M209.2 708.5v23.4M211.8 708.5v23.4M214.5 708.5v23.4M217.1 708.5v23.4M219.7 708.5v23.4M222.3 708.5v23.4M224.9 708.5v23.4M227.6 708.5v23.4M230.2 708.5v23.4M232.8 708.5v23.4M235.4 708.5v23.4M238 708.5v23.4M240.7 708.5v23.4M243.3 708.5v23.4M245.9 708.5v23.4M248.5 708.5v23.4M251.1 708.5v23.4M253.8 708.5v23.4M256.4 708.5v23.4M259 708.5v23.4M261.6 708.5v23.4M264.2 708.5v23.4M266.9 708.5v23.4M269.5 708.5v23.4M272.1 708.5v23.4M274.7 708.5v23.4M277.3 708.5v23.4M280 708.5v23.4M282.6 708.5v23.4M285.2 708.5v23.4M287.8 708.5v23.4M290.4 708.5v23.4M293.1 708.5v23.4M295.7 708.5v23.4M298.3 708.5v23.4M300.9 708.5v23.4M303.5 708.5v23.4M306.2 708.5v23.4M308.8 708.5v23.4M311.4 708.5v23.4M314 708.5v23.4M316.6 708.5v23.4M319.3 708.5v23.4M321.9 708.5v23.4M324.5 708.5v23.4M327.1 708.5v23.4M329.7 708.5v23.4M332.4 708.5v23.4M335 708.5v23.4M337.6 708.5v23.4M340.2 708.5v23.4M342.8 708.5v23.4M345.5 708.5v23.4M348.1 708.5v23.4M350.7 708.5v23.4M353.3 708.5v23.4M355.9 708.5v23.4M358.6 708.5v23.4M361.2 708.5v23.4M363.8 708.5v23.4M366.4 708.5v23.4M369 708.5v23.4M371.7 708.5v23.4M374.3 708.5v23.4M376.9 708.5v23.4M379.5 708.5v23.4M382.1 708.5v23.4M384.8 708.5v23.4M387.4 708.5v23.4M390 708.5v23.4M392.6 708.5v23.4M395.2 708.5v23.4M397.9 708.5v23.4M400.5 708.5v23.4M403.1 708.5v23.4M405.7 708.5v23.4M408.3 708.5v23.4M411 708.5v23.4M413.6 708.5v23.4M416.2 708.5v23.4M418.8 708.5v23.4M421.4 708.5v23.4M424.1 708.5v23.4M426.7 708.5v23.4M429.3 708.5v23.4M431.9 708.5v23.4M434.5 708.5v23.4M437.2 708.5v23.4M439.8 708.5v23.4M442.4 708.5v23.4M445 708.5v23.4M447.6 708.5v23.4M450.3 708.5v23.4M452.9 708.5v23.4M455.5 708.5v23.4M458.1 708.5v23.4M460.7 708.5v23.4M463.4 708.5v23.4M466 708.5v23.4M468.6 708.5v23.4M471.2 708.5v23.4M473.8 708.5v23.4M476.5 708.5v23.4M479.1 708.5v23.4M481.7 708.5v23.4M484.3 708.5v23.4M486.9 708.5v23.4M489.6 708.5v23.4M492.2 708.5v23.4M494.8 708.5v23.4M497.4 708.5v23.4M500 708.5v23.4M502.7 708.5v23.4M505.3 708.5v23.4M507.9 708.5v23.4M510.5 708.5v23.4M513.1 708.5v23.4M515.8 708.5v23.4M518.4 708.5v23.4M521 708.5v23.4M523.6 708.5v23.4M526.2 708.5v23.4M528.9 708.5v23.4M531.5 708.5v23.4M534.1 708.5v23.4M536.7 708.5v23.4M539.3 708.5v23.4M542 708.5v23.4M544.6 708.5v23.4M547.2 708.5v23.4M549.8 708.5v23.4M552.4 708.5v23.4M555.1 708.5v23.4M557.7 708.5v23.4M560.3 708.5v23.4M562.9 708.5v23.4M565.5 708.5v23.4M568.2 708.5v23.4M570.8 708.5v23.4M573.4 708.5v23.4M576 708.5v23.4M578.6 708.5v23.4M581.3 708.5v23.4M583.9 708.5v23.4M586.5 708.5v23.4" stroke="#fff" stroke-opacity="0.13" stroke-width="0.8"/>
<text x="601.7" y="737.2" font-size="24" textLength="105.8" lengthAdjust="spacingAndGlyphs">Lineages</text>
<rect x="605" y="752" width="23" height="23" fill="#6c790c"/>
<text x="641.7" y="772" font-size="24" textLength="66.7" lengthAdjust="spacingAndGlyphs">BRCA</text>
<rect x="605" y="788.7" width="23" height="23" fill="#959f10"/>
<text x="641.7" y="808.7" font-size="24" textLength="39" lengthAdjust="spacingAndGlyphs">CM</text>
<rect x="605" y="825.5" width="23" height="23" fill="#830633"/>
<text x="641.7" y="845.5" font-size="24" textLength="52" lengthAdjust="spacingAndGlyphs">CRC</text>
<rect x="605" y="862.3" width="23" height="23" fill="#dc10e0"/>
<text x="641.7" y="882.3" font-size="24" textLength="84.2" lengthAdjust="spacingAndGlyphs">NSCLC</text>
<rect x="605" y="899" width="23" height="23" fill="#12628a"/>
<text x="641.7" y="919" font-size="24" textLength="66.7" lengthAdjust="spacingAndGlyphs">PDAC</text>
<path d="M62.5 707.5V705.8H65.1V707.5M67.7 707.5V706.1H70.3V707.5M63.8 705.8V704.4H69V706.1M75.5 707.5V706.3H78.1V707.5M72.9 707.5V704.9H76.8V706.3M66.4 704.4V703.6H74.9V704.9M83.3 707.5V706.7H85.9V707.5M80.7 707.5V704.7H84.6V706.7M82.7 704.7V703.1H88.5V707.5M70.6 703.6V701.3H85.6V703.1M93.7 707.5V706.6H96.3V707.5M91.1 707.5V704.7H95V706.6M101.5 707.5V705.6H104.1V707.5M102.8 705.6V704.3H106.8V707.5M98.9 707.5V702.9H104.8V704.3M112 707.5V706.8H114.6V707.5M109.4 707.5V704.9H113.3V706.8M119.8 707.5V706.5H122.4V707.5M117.2 707.5V704.6H121.1V706.5M111.3 704.9V702.7H119.1V704.6M101.9 702.9V701H115.2V702.7M93.1 704.7V699.3H108.5V701M127.6 707.5V705.7H130.2V707.5M125 707.5V704.8H128.9V705.7M132.8 707.5V705.6H135.4V707.5M126.9 704.8V703.5H134.1V705.6M138 707.5V706.3H140.6V707.5M143.2 707.5V706.8H145.8V707.5M144.5 706.8V705.9H148.4V707.5M139.3 706.3V704.3H146.4V705.9M130.5 703.5V701.5H142.9V704.3M100.8 699.3V698H136.7V701.5M78.1 701.3V696.7H118.7V698M151 707.5V706.1H153.6V707.5M156.1 707.5V706.6H158.7V707.5M161.3 707.5V705.6H163.8V707.5M157.4 706.6V704.4H162.6V705.6M152.3 706.1V703H160V704.4M169 707.5V706.7H171.6V707.5M166.4 707.5V705H170.3V706.7M156.1 703V701.3H168.3V705M174.1 707.5V705.6H176.7V707.5M179.3 707.5V706.3H181.9V707.5M175.4 705.6V703.6H180.6V706.3M184.4 707.5V706.2H187V707.5M189.6 707.5V706.5H192.1V707.5M185.7 706.2V704.3H190.9V706.5M188.3 704.3V703.4H194.7V707.5M178 703.6V702.6H191.5V703.4M162.2 701.3V699.5H184.7V702.6M197.3 707.5V706.4H199.9V707.5M202.6 707.5V706.7H205.2V707.5M210.5 707.5V705.5H213.1V707.5M207.8 707.5V703.9H211.8V705.5M203.9 706.7V702.5H209.8V703.9M198.6 706.4V701.5H206.9V702.5M215.7 707.5V706.8H218.4V707.5M217 706.8V705.8H221V707.5M219 705.8V704H223.6V707.5M202.7 701.5V699.8H221.3V704M226.3 707.5V705.7H228.9V707.5M231.5 707.5V706.1H234.1V707.5M227.6 705.7V704.6H232.8V706.1M239.4 707.5V705.6H242V707.5M236.8 707.5V704.8H240.7V705.6M238.7 704.8V703.4H244.7V707.5M230.2 704.6V701.8H241.7V703.4M247.3 707.5V706.3H249.9V707.5M248.6 706.3V704.3H252.6V707.5M250.6 704.3V702.4H255.2V707.5M236 701.8V700.9H252.9V702.4M212 699.8V698.9H244.4V700.9M263.1 707.5V705.7H265.7V707.5M260.4 707.5V704.1H264.4V705.7M257.8 707.5V703.3H262.4V704.1M268.3 707.5V706.5H271V707.5M276.2 707.5V706.3H278.9V707.5M273.6 707.5V704.7H277.5V706.3M269.7 706.5V703.3H275.6V704.7M284.1 707.5V705.8H286.8V707.5M285.4 705.8V704.1H289.4V707.5M281.5 707.5V703.4H287.4V704.1M272.6 703.3V702H284.5V703.4M260.1 703.3V701.2H278.5V702M228.2 698.9V697.3H269.3V701.2M292 707.5V706.4H294.6V707.5M299.7 707.5V706.4H302.3V707.5M297.1 707.5V704.5H301V706.4M293.3 706.4V703.4H299.1V704.5M304.8 707.5V705.6H307.4V707.5M306.1 705.6V704.7H310V707.5M296.2 703.4V702H308.1V704.7M312.6 707.5V706.1H315.1V707.5M317.7 707.5V706.7H320.3V707.5M313.8 706.1V704.4H319V706.7M322.9 707.5V706.3H325.4V707.5M316.4 704.4V703.2H324.1V706.3M328 707.5V706.7H330.6V707.5M329.3 706.7V705.9H333.1V707.5M320.3 703.2V701.5H331.2V705.9M335.7 707.5V706.8H338.3V707.5M340.9 707.5V706.1H343.4V707.5M342.1 706.1V704.9H346V707.5M337 706.8V703.7H344.1V704.9M351.1 707.5V706.2H353.7V707.5M348.6 707.5V705.2H352.4V706.2M340.5 703.7V702.1H350.5V705.2M325.7 701.5V699.7H345.5V702.1M302.1 702V698.1H335.6V699.7M358.8 707.5V706H361.4V707.5M356.3 707.5V704H360.1V706M366.5 707.5V705.9H369.1V707.5M371.6 707.5V705.8H374.2V707.5M367.8 705.9V704.3H372.9V705.8M364 707.5V702.6H370.4V704.3M358.2 704V701H367.2V702.6M376.8 707.5V705.6H379.3V707.5M381.9 707.5V706H384.4V707.5M378 705.6V703.8H383.1V706M387 707.5V705.5H389.5V707.5M380.6 703.8V703.1H388.3V705.5M394.7 707.5V706.3H397.2V707.5M392.1 707.5V705.4H395.9V706.3M384.4 703.1V701.7H394V705.4M362.7 701V700.2H389.2V701.7M399.8 707.5V706.7H402.4V707.5M404.9 707.5V705.9H407.5V707.5M401.1 706.7V704.9H406.2V705.9M403.6 704.9V703.8H410.1V707.5M412.6 707.5V705.6H415.2V707.5M417.8 707.5V706.5H420.3V707.5M413.9 705.6V703.8H419V706.5M425.4 707.5V706.5H428V707.5M422.9 707.5V705.1H426.7V706.5M416.5 703.8V702.7H424.8V705.1M406.8 703.8V701.5H420.6V702.7M430.6 707.5V706.4H433.2V707.5M435.8 707.5V706.3H438.4V707.5M431.9 706.4V705.2H437.1V706.3M443.6 707.5V705.7H446.3V707.5M445 705.7V703.8H448.9V707.5M441 707.5V702.2H446.9V703.8M434.5 705.2V701.5H444V702.2M451.5 707.5V706H454.1V707.5M452.8 706V704.4H456.7V707.5M439.2 701.5V700.5H454.7V704.4M459.3 707.5V706.4H462V707.5M460.7 706.4V705.1H464.7V707.5M470.1 707.5V705.7H472.8V707.5M467.4 707.5V704.3H471.5V705.7M480.9 707.5V706.1H483.6V707.5M478.2 707.5V705.1H482.2V706.1M475.5 707.5V703.3H480.2V705.1M469.4 704.3V701.6H477.9V703.3M486.3 707.5V706.8H489V707.5M487.6 706.8V705.3H491.7V707.5M473.6 701.6V700.7H489.6V705.3M462.7 705.1V698.9H481.6V700.7M494.3 707.5V705.7H497V707.5M499.7 707.5V706.2H502.4V707.5M501.1 706.2V704.4H505.1V707.5M495.7 705.7V703.3H503.1V704.4M510.5 707.5V706.4H513.2V707.5M507.8 707.5V704.9H511.8V706.4M499.4 703.3V701.5H509.8V704.9M521.3 707.5V706.6H524V707.5M522.6 706.6V705.5H526.7V707.5M518.6 707.5V704.7H524.6V705.5M515.9 707.5V704H521.6V704.7M504.6 701.5V700.1H518.7V704M529.4 707.5V706.7H532.2V707.5M535.1 707.5V706.1H537.9V707.5M530.8 706.7V704.9H536.5V706.1M540.8 707.5V705.9H543.6V707.5M533.7 704.9V703.5H542.2V705.9M546.3 707.5V706.5H549V707.5M557 707.5V706H559.7V707.5M554.3 707.5V705.1H558.3V706M551.7 707.5V703.4H556.3V705.1M547.7 706.5V702.1H554V703.4M562.4 707.5V705.8H565.2V707.5M568 707.5V706.5H570.8V707.5M569.4 706.5V704.8H573.6V707.5M563.8 705.8V702.9H571.5V704.8M576.4 707.5V706.3H579.2V707.5M577.8 706.3V704.4H582V707.5M584.8 707.5V705.8H587.6V707.5M579.9 704.4V703.7H586.2V705.8" fill="none" stroke="#111" stroke-width="1"/>
<path d="M79.6 695.2V647.7H394.2V667.5M279.2 689.4V667.5H507.8V674.3M199.2 697.5V689.4H359.7V694.3M455.1 688.4V674.3H561.9V686.2M436.4 699.4V688.4H473.7V694.3M458.1 700V694.3H488.3V698M543.7 697.7V686.2H579.3V694.3M573.7 699.5V694.3H583.9V699.5M68.3 700V695.2H91.5V699M300 699V694.3H409V699.5M360 694.3V690.1H407.3V694.3" fill="none" stroke="#111" stroke-width="1.3"/>
<path d="M37.4 825.3H6.4V1140.6H29.2M49.6 767.2H37.6V882.5H45M52 849H45V916.4H50M39.2 1016H29.2V1263.5H32.6M50 967H39.2V1092H47M43.3 1185.4H32.6V1342.5H40.7M50 1160H43.3V1210.5H49M47.2 1281.9H40.7V1378.6H44.7M53 1255.5H47.2V1317.5H52M51 1370H44.7V1419.4H50M54 747H49.6V790H53M54 1400H50V1455H54" fill="none" stroke="#111" stroke-width="1.4"/>
<path d="M58 739H57.5V741H58M58 743H56.8V745H58M57.5 740H55.9V744H56.8M58 747H57.5V749H58M55.9 742H55.1V748H57.5M58 753H57.1V755H58M58 751H56.7V754H57.1M55.1 745H54.5V752.5H56.7M58 757H57V759H58M58 763H57.1V765H58M57.1 764H56.5V767H58M58 761H56.1V765.5H56.5M57 758H55V763.2H56.1M54.5 748.8H53.9V760.6H55M58 769H56.8V771H58M56.8 770H56V773H58M56 771.5H55V775H58M58 777H57V779H58M58 783H57.4V785H58M58 781H56.9V784H57.4M56.9 782.5H56.4V787H58M56.4 784.8H55.7V789H58M57 778H54.8V786.9H55.7M55 773.2H54.3V782.4H54.8M53.9 754.7H52.9V777.8H54.3M58 793H57.2V795H58M58 791H56.2V794H57.2M58 797H56.8V799H58M56.2 792.5H55.7V798H56.8M58 803H57.3V805H58M58 801H56.4V804H57.3M58 807H57.5V809H58M56.4 802.5H55.8V808H57.5M58 811H57V813H58M57 812H55.8V815H58M55.8 805.2H54.6V813.5H55.8M55.7 795.2H53.9V809.4H54.6M58 819H57V821H58M58 817H55.9V820H57M55.9 818.5H55.4V823H58M58 825H57.3V827H58M57.3 826H56.4V829H58M55.4 820.8H54.2V827.5H56.4M58 831H57.3V833H58M57.3 832H56.7V835H58M56.7 833.5H56.2V837H58M58 839H56.8V841H58M58 847H57.1V849H58M58 845H56.4V848H57.1M58 843H55.8V846.5H56.4M56.8 840H54.9V844.8H55.8M56.2 835.2H53.8V842.4H54.9M54.2 824.1H53V838.8H53.8M53.9 802.3H52.2V831.5H53M58 851H57.2V852.9H58M57.2 851.9H56.1V854.8H58M58 856.7H57.1V858.6H58M57.1 857.7H56V860.5H58M58 862.5H57.4V864.4H58M58 868.2H56.8V870.1H58M58 866.3H55.7V869.2H56.8M55.7 867.7H54.5V872H58M57.4 863.4H53.7V869.9H54.5M56 859.1H52.9V866.7H53.7M56.1 853.4H51.9V862.9H52.9M58 876.1H57.3V878.2H58M58 874H56.1V877.1H57.3M58 880.2H57.3V882.3H58M57.3 881.3H56.8V884.4H58M56.8 882.8H56.1V886.5H58M56.1 875.6H55V884.7H56.1M58 888.5H57V890.6H58M58 892.7H57V894.8H58M57 893.7H56.3V896.8H58M57 889.6H55.3V895.3H56.3M58 898.9H57.2V901H58M55.3 892.4H54.3V899.9H57.2M55 880.1H53.3V896.2H54.3M58 903H57.1V905H58M57.1 904H56.5V907H58M58 909H57.2V911H58M56.5 905.5H55.4V910H57.2M58 913H57V915H58M55.4 907.8H54.7V914H57M58 919H56.9V921H58M58 917H55.9V920H56.9M55.9 918.5H54.7V923H58M58 925H57.2V927H58M54.7 920.8H53.9V926H57.2M58 929H56.8V931H58M58 935H57V937H58M58 933H56V936H57M56.8 930H55.4V934.5H56M53.9 923.4H52.9V932.2H55.4M54.7 910.9H52V927.8H52.9M58 939H57.1V941H58M58 943H57.5V945H58M57.1 940H56.5V944H57.5M58 947H57.4V949H58M58 951H57.1V953H58M57.4 948H56.6V952H57.1M56.5 942H55.7V950H56.6M58 955H57.4V957H58M58 959H57.4V961H58M58 963H57.2V965H58M57.4 960H56.5V964H57.2M57.4 956H55.6V962H56.5M55.7 946H54.7V959H55.6M58 971.2H57.2V973.2H58M58 969.1H56.7V972.2H57.2M58 967H55.6V970.7H56.7M55.6 968.8H54.9V975.3H58M58 977.4H57.5V979.5H58M58 981.5H56.8V983.6H58M58 985.7H57.2V987.8H58M56.8 982.6H55.8V986.7H57.2M58 989.8H57.4V991.9H58M57.4 990.9H56.5V994H58M55.8 984.6H54.9V992.4H56.5M57.5 978.4H53.7V988.5H54.9M54.9 972.1H52.6V983.5H53.7M58 996H57.5V998H58M57.5 997H56.6V1000H58M58 1004H56.9V1006H58M58 1002H56.1V1005H56.9M58 1008H57.4V1010H58M56.1 1003.5H55.5V1009H57.4M56.6 998.5H54.3V1006.2H55.5M58 1012H57.1V1014H58M57.1 1013H56.5V1016H58M58 1020H57.3V1022H58M58 1018H56.1V1021H57.3M56.1 1019.5H55.3V1024H58M56.5 1014.5H54.6V1021.8H55.3M54.3 1002.4H53.5V1018.1H54.6M58 1026H57V1027.9H58M58 1029.9H57.5V1031.9H58M57 1027H56.1V1030.9H57.5M58 1035.8H57V1037.7H58M58 1033.8H56.3V1036.8H57M56.1 1028.9H55.5V1035.3H56.3M58 1039.7H57.2V1041.6H58M58 1043.6H57.1V1045.6H58M57.2 1040.7H56.1V1044.6H57.1M58 1047.5H57V1049.5H58M56.1 1042.6H55.4V1048.5H57M58 1053.4H57.2V1055.4H58M58 1051.4H56.5V1054.4H57.2M58 1057.3H57.5V1059.3H58M57.5 1058.3H56.9V1061.2H58M56.5 1052.9H55.7V1059.8H56.9M58 1063.2H57V1065.1H58M57 1064.2H56.2V1067.1H58M56.2 1065.6H55.3V1069.1H58M55.3 1067.3H54.3V1071H58M55.7 1056.3H53.4V1069.2H54.3M55.4 1045.6H52.6V1062.8H53.4M55.5 1032.1H51.5V1054.2H52.6M58 1073H56.9V1075H58M58 1078.9H57V1080.9H58M58 1076.9H56.3V1079.9H57M56.9 1074H55.6V1078.4H56.3M58 1082.8H56.9V1084.8H58M55.6 1076.2H55V1083.8H56.9M58 1086.8H57.3V1088.8H58M58 1090.7H57.1V1092.7H58M57.3 1087.8H56.1V1091.7H57.1M58 1098.6H57V1100.6H58M58 1096.6H56V1099.6H57M58 1094.7H55.5V1098.1H56M56.1 1089.7H54.5V1096.4H55.5M55 1080H53.4V1093.1H54.5M58 1102.5H57.4V1104.5H58M58 1106.5H57.4V1108.5H58M57.4 1107.5H56.8V1110.4H58M58 1112.4H57.1V1114.4H58M57.1 1113.4H56.3V1116.3H58M56.8 1108.9H55.8V1114.9H56.3M57.4 1103.5H54.8V1111.9H55.8M58 1118.3H57.3V1120.3H58M58 1126.2H57V1128.2H58M58 1124.2H55.9V1127.2H57M58 1122.2H55.3V1125.7H55.9M57.3 1119.3H54.6V1124H55.3M54.8 1107.7H53.9V1121.6H54.6M58 1132.1H57.3V1134.1H58M58 1130.1H56.8V1133.1H57.3M58 1136H57.4V1138H58M56.8 1131.6H55.9V1137H57.4M53.9 1114.7H53V1134.3H55.9M53.4 1086.5H51.9V1124.5H53M58 1140H57V1141.9H58M57 1141H56.1V1143.9H58M58 1145.9H57.3V1147.8H58M58 1149.8H57V1151.8H58M57 1150.8H56.1V1153.7H58M57.3 1146.8H55.6V1152.2H56.1M56.1 1142.4H54.6V1149.5H55.6M58 1155.7H57.1V1157.6H58M58 1161.6H57.3V1163.5H58M57.3 1162.5H56.3V1165.5H58M58 1159.6H55.8V1164H56.3M57.1 1156.7H54.8V1161.8H55.8M54.6 1146H54.1V1159.2H54.8M58 1167.4H57.5V1169.4H58M57.5 1168.4H56.3V1171.4H58M56.3 1169.9H55.3V1173.3H58M58 1175.3H57.3V1177.2H58M58 1181.2H57.1V1183.1H58M58 1179.2H56.4V1182.2H57.1M57.3 1176.3H55.6V1180.7H56.4M58 1187.1H57.1V1189H58M58 1185.1H56V1188H57.1M55.6 1178.5H54.9V1186.6H56M55.3 1171.6H53.8V1182.5H54.9M54.1 1152.6H52.9V1177.1H53.8M58 1193H57.5V1195H58M58 1191H56.9V1194H57.5M58 1197H56.9V1199H58M56.9 1192.5H56.1V1198H56.9M58 1203H56.9V1205H58M58 1201H56V1204H56.9M58 1207H57.2V1209H58M56 1202.5H55.4V1208H57.2M56.1 1195.2H54.9V1205.2H55.4M58 1213H56.9V1215H58M58 1211H56.3V1214H56.9M58 1217H57.4V1219H58M58 1223H57.2V1225H58M58 1221H56.7V1224H57.2M57.4 1218H55.6V1222.5H56.7M56.3 1212.5H54.8V1220.2H55.6M54.9 1200.2H53.7V1216.4H54.8M58 1229H57V1231H58M57 1230H56V1233H58M58 1227H55.5V1231.5H56M55.5 1229.2H54.9V1235H58M58 1237H57.5V1239H58M58 1241H57.3V1243H58M58 1245H57.2V1247H58M57.3 1242H56.5V1246H57.2M57.5 1238H55.5V1244H56.5M54.9 1232.1H53.9V1241H55.5M58 1251H56.8V1253H58M58 1249H55.9V1252H56.8M58 1255H57.5V1257H58M58 1261H57.2V1263H58M58 1259H56.8V1262H57.2M57.5 1256H55.9V1260.5H56.8M55.9 1250.5H54.7V1258.2H55.9M53.9 1236.6H53V1254.4H54.7M58 1265H56.9V1267H58M58 1269H57.5V1271H58M58 1273H57.5V1275H58M57.5 1270H56.8V1274H57.5M56.9 1266H56.3V1272H56.8M58 1279H57.5V1281H58M58 1277H57V1280H57.5M58 1285H57.2V1287H58M58 1283H56.4V1286H57.2M56.4 1284.5H55.9V1289H58M57 1278.5H55.2V1286.8H55.9M56.3 1269H54.7V1282.6H55.2M53 1245.5H52.2V1275.8H54.7M58 1293H57.2V1295H58M58 1291H56.3V1294H57.2M58 1297H57V1299H58M58 1301H57.3V1303H58M57 1298H56.2V1302H57.3M56.3 1292.5H55.1V1300H56.2M58 1307H57.3V1309H58M58 1305H56.8V1308H57.3M55.1 1296.2H54.1V1306.5H56.8M58 1311H57.5V1313H58M58 1317H57.2V1319H58M58 1315H56.3V1318H57.2M57.5 1312H55.7V1316.5H56.3M58 1323H57.5V1325H58M58 1321H56.9V1324H57.5M55.7 1314.2H55V1322.5H56.9M54.1 1301.4H53.4V1318.4H55M58 1327H57.3V1329H58M58 1331H57.1V1333H58M57.1 1332H56V1335H58M58 1337H57.2V1339H58M56 1333.5H55V1338H57.2M57.3 1328H54V1335.8H55M53.4 1309.9H52.2V1331.9H54M58 1343H57.5V1345.1H58M58 1341H56.9V1344.1H57.5M58 1347.1H57V1349.1H58M56.9 1342.5H56.3V1348.1H57M58 1351.2H57.1V1353.2H58M58 1361.3H56.9V1363.4H58M58 1359.3H55.7V1362.3H56.9M58 1357.3H54.8V1360.8H55.7M58 1355.2H54.2V1359H54.8M57.1 1352.2H53.4V1357.1H54.2M56.3 1345.3H52.7V1354.7H53.4M58 1367.4H56.9V1369.5H58M58 1365.4H55.9V1368.4H56.9M58 1373.5H57V1375.5H58M58 1377.6H56.8V1379.6H58M57 1374.5H55.8V1378.6H56.8M58 1371.5H55.3V1376.6H55.8M55.9 1366.9H54.6V1374H55.3M52.7 1350H51.6V1370.5H54.6M58 1383.7H56.8V1385.7H58M58 1381.6H56V1384.7H56.8M58 1387.7H57.5V1389.8H58M57.5 1388.8H56.4V1391.8H58M56 1383.2H55.2V1390.3H56.4M58 1393.8H57.5V1395.9H58M58 1397.9H56.9V1399.9H58M58 1402H57.4V1404H58M56.9 1398.9H56.2V1403H57.4M57.5 1394.8H55.6V1400.9H56.2M55.2 1386.7H54.4V1397.9H55.6M51.6 1360.2H50.9V1392.3H54.4M58 1408H56.9V1410H58M58 1406H55.8V1409H56.9M58 1412H57.4V1414H58M57.4 1413H56.4V1416H58M55.8 1407.5H55V1414.5H56.4M58 1420H57V1422H58M58 1418H55.9V1421H57M58 1424H57V1426H58M57 1425H55.9V1428H58M58 1430H57.5V1432H58M57.5 1431H56.7V1434H58M58 1436H57.4V1438H58M56.7 1432.5H56V1437H57.4M55.9 1426.5H55.3V1434.8H56M55.9 1419.5H54.8V1430.6H55.3M55 1411H54.1V1425.1H54.8M58 1440H57.3V1442H58M58 1444H56.9V1446H58M57.3 1441H55.8V1445H56.9M58 1448H57V1450H58M58 1452H57.1V1454H58M57 1449H56V1453H57.1M58 1456H57.3V1458H58M56 1451H55.5V1457H57.3M55.8 1443H55V1454H55.5M54.1 1418H53.4V1448.5H55" fill="none" stroke="#111" stroke-width="0.9"/>
<rect x="55.5" y="738" width="4.5" height="721.5" fill="#111"/>
<rect x="345.1" y="1472.8" width="106.8" height="23.4" fill="url(#gb)"/>
<path d="M347.6 1472.8v5.5M347.6 1490.7v5.5M373.4 1472.8v5.5M373.4 1490.7v5.5M398 1472.8v5.5M398 1490.7v5.5M423 1472.8v5.5M423 1490.7v5.5M449.7 1472.8v5.5M449.7 1490.7v5.5" stroke="#fff" stroke-width="1.3"/>
<text x="347.6" y="1520.3" font-size="20" text-anchor="middle">2</text>
<text x="373.4" y="1520.3" font-size="20" text-anchor="middle">1</text>
<text x="396.3" y="1520.3" font-size="20" text-anchor="middle">0</text>
<text x="418.3" y="1520.3" font-size="20" text-anchor="middle">−1</text>
<text x="446.3" y="1520.3" font-size="20" text-anchor="middle">−2</text>
<text x="471.4" y="1492.6" font-size="24" textLength="103.6" lengthAdjust="spacingAndGlyphs">Essential</text>
<line x1="481.9" y1="1505.5" x2="560.1" y2="1505.5" stroke="#46536b" stroke-width="3.6"/>
<polygon points="570.8,1505.5 555.8,1512 559.1,1505.5 555.8,1499" fill="#46536b"/>
<path d="M917.4 651V935.8H1294.3" fill="none" stroke="#2b2b2b" stroke-width="1.6"/>
<line x1="907.2" y1="703.6" x2="917.4" y2="703.6" stroke="#2b2b2b" stroke-width="1.5"/>
<text x="895" y="711" font-size="21" text-anchor="end" textLength="12.3" lengthAdjust="spacingAndGlyphs">0</text>
<line x1="907.2" y1="765.5" x2="917.4" y2="765.5" stroke="#2b2b2b" stroke-width="1.5"/>
<text x="895" y="772.9" font-size="21" text-anchor="end" textLength="43" lengthAdjust="spacingAndGlyphs">−0.5</text>
<line x1="907.2" y1="827.4" x2="917.4" y2="827.4" stroke="#2b2b2b" stroke-width="1.5"/>
<text x="895" y="834.8" font-size="21" text-anchor="end" textLength="39" lengthAdjust="spacingAndGlyphs">−1.0</text>
<line x1="907.2" y1="889.3" x2="917.4" y2="889.3" stroke="#2b2b2b" stroke-width="1.5"/>
<text x="895" y="896.7" font-size="21" text-anchor="end" textLength="38" lengthAdjust="spacingAndGlyphs">−1.5</text>
<line x1="960.7" y1="935.8" x2="960.7" y2="946.3" stroke="#2b2b2b" stroke-width="1.5"/>
<line x1="1032.9" y1="935.8" x2="1032.9" y2="946.3" stroke="#2b2b2b" stroke-width="1.5"/>
<line x1="1105.4" y1="935.8" x2="1105.4" y2="946.3" stroke="#2b2b2b" stroke-width="1.5"/>
<line x1="1177.5" y1="935.8" x2="1177.5" y2="946.3" stroke="#2b2b2b" stroke-width="1.5"/>
<line x1="1249.7" y1="935.8" x2="1249.7" y2="946.3" stroke="#2b2b2b" stroke-width="1.5"/>
<line x1="960.7" y1="679.2" x2="960.7" y2="703.6" stroke="#333" stroke-width="1.6"/>
<line x1="960.7" y1="743.4" x2="960.7" y2="788.3" stroke="#333" stroke-width="1.6"/>
<rect x="935.1" y="703.6" width="51.3" height="39.8" fill="#fff" stroke="#333" stroke-width="1.6"/>
<line x1="935.1" y1="722.2" x2="986.4" y2="722.2" stroke="#0a0a0a" stroke-width="3.2"/>
<circle cx="960.7" cy="806.6" r="3.4" fill="#0a0a0a"/>
<circle cx="960.7" cy="813.6" r="3.4" fill="#0a0a0a"/>
<line x1="1032.9" y1="768.7" x2="1032.9" y2="811.4" stroke="#333" stroke-width="1.6"/>
<line x1="1032.9" y1="851.5" x2="1032.9" y2="871.7" stroke="#333" stroke-width="1.6"/>
<rect x="1007.3" y="811.4" width="51.3" height="40.1" fill="#fff" stroke="#333" stroke-width="1.6"/>
<line x1="1007.3" y1="833.2" x2="1058.6" y2="833.2" stroke="#0a0a0a" stroke-width="3.2"/>
<circle cx="1032.9" cy="719" r="3.4" fill="#0a0a0a"/>
<line x1="1105.4" y1="663.8" x2="1105.4" y2="724.7" stroke="#333" stroke-width="1.6"/>
<line x1="1105.4" y1="780.9" x2="1105.4" y2="842.8" stroke="#333" stroke-width="1.6"/>
<rect x="1079.8" y="724.7" width="51.3" height="56.2" fill="#fff" stroke="#333" stroke-width="1.6"/>
<line x1="1079.8" y1="755.9" x2="1131.1" y2="755.9" stroke="#0a0a0a" stroke-width="3.2"/>
<line x1="1177.5" y1="792.1" x2="1177.5" y2="835.4" stroke="#333" stroke-width="1.6"/>
<line x1="1177.5" y1="872.3" x2="1177.5" y2="922.7" stroke="#333" stroke-width="1.6"/>
<rect x="1151.8" y="835.4" width="51.3" height="36.9" fill="#fff" stroke="#333" stroke-width="1.6"/>
<line x1="1151.8" y1="857.2" x2="1203.2" y2="857.2" stroke="#0a0a0a" stroke-width="3.2"/>
<line x1="1249.7" y1="663.8" x2="1249.7" y2="686" stroke="#333" stroke-width="1.6"/>
<line x1="1249.7" y1="717.4" x2="1249.7" y2="762.3" stroke="#333" stroke-width="1.6"/>
<rect x="1224" y="686" width="51.3" height="31.4" fill="#fff" stroke="#333" stroke-width="1.6"/>
<line x1="1224" y1="704.5" x2="1275.4" y2="704.5" stroke="#0a0a0a" stroke-width="3.2"/>
<text x="1032.9" y="709.8" font-size="31" text-anchor="middle" textLength="40.5" lengthAdjust="spacingAndGlyphs">***</text>
<text x="1177.5" y="786.3" font-size="31" text-anchor="middle" textLength="40.5" lengthAdjust="spacingAndGlyphs">***</text>
<text transform="translate(828.5 794.5) rotate(-90)" x="0" y="0" font-size="24.5" text-anchor="middle" textLength="203.7" lengthAdjust="spacingAndGlyphs"><tspan font-style="italic">KRAS</tspan> essentiality</text>
<text transform="translate(952.5 872.2) rotate(-90)" x="0" y="0" font-size="25.5" text-anchor="middle" textLength="103.6" lengthAdjust="spacingAndGlyphs">Essential</text>
<line x1="964.2" y1="828" x2="964.2" y2="905.1" stroke="#46536b" stroke-width="3.8"/>
<polygon points="964.2,916.6 957.7,900.6 964.2,904.1 970.7,900.6" fill="#46536b"/>
<text transform="translate(971.7 967) rotate(-45)" x="0" y="0" font-size="24" text-anchor="end">BRCA</text>
<text transform="translate(1043.9 967) rotate(-45)" x="0" y="0" font-size="24" text-anchor="end">CRC</text>
<text transform="translate(1116.4 967) rotate(-45)" x="0" y="0" font-size="24" text-anchor="end">NSCLC</text>
<text transform="translate(1188.5 967) rotate(-45)" x="0" y="0" font-size="24" text-anchor="end">PDAC</text>
<text transform="translate(1260.7 967) rotate(-45)" x="0" y="0" font-size="24" text-anchor="end">CM</text>
<path d="M1491.9 624V941.3H1704" fill="none" stroke="#2b2b2b" stroke-width="1.6"/>
<line x1="1481.7" y1="681.8" x2="1491.9" y2="681.8" stroke="#2b2b2b" stroke-width="1.5"/>
<text x="1470.6" y="689.2" font-size="21" text-anchor="end" textLength="12.3" lengthAdjust="spacingAndGlyphs">0</text>
<line x1="1481.7" y1="750.5" x2="1491.9" y2="750.5" stroke="#2b2b2b" stroke-width="1.5"/>
<text x="1470.6" y="757.9" font-size="21" text-anchor="end" textLength="43" lengthAdjust="spacingAndGlyphs">−0.5</text>
<line x1="1481.7" y1="819.2" x2="1491.9" y2="819.2" stroke="#2b2b2b" stroke-width="1.5"/>
<text x="1470.6" y="826.6" font-size="21" text-anchor="end" textLength="39" lengthAdjust="spacingAndGlyphs">−1.0</text>
<line x1="1481.7" y1="887.9" x2="1491.9" y2="887.9" stroke="#2b2b2b" stroke-width="1.5"/>
<text x="1470.6" y="895.3" font-size="21" text-anchor="end" textLength="38" lengthAdjust="spacingAndGlyphs">−1.5</text>
<line x1="1549" y1="941.3" x2="1549" y2="951.8" stroke="#2b2b2b" stroke-width="1.5"/>
<line x1="1644.2" y1="941.3" x2="1644.2" y2="951.8" stroke="#2b2b2b" stroke-width="1.5"/>
<line x1="1548.7" y1="638.7" x2="1548.7" y2="683.8" stroke="#333" stroke-width="1.6"/>
<line x1="1548.7" y1="762.6" x2="1548.7" y2="869.8" stroke="#333" stroke-width="1.6"/>
<rect x="1514.9" y="683.8" width="67.6" height="78.8" fill="#fff" stroke="#333" stroke-width="1.6"/>
<line x1="1514.9" y1="706.8" x2="1582.5" y2="706.8" stroke="#0a0a0a" stroke-width="3.2"/>
<line x1="1645.3" y1="779.1" x2="1645.3" y2="819.6" stroke="#333" stroke-width="1.6"/>
<line x1="1645.3" y1="858" x2="1645.3" y2="902.6" stroke="#333" stroke-width="1.6"/>
<rect x="1611.5" y="819.6" width="67.6" height="38.4" fill="#fff" stroke="#333" stroke-width="1.6"/>
<line x1="1611.5" y1="840.1" x2="1679.1" y2="840.1" stroke="#0a0a0a" stroke-width="3.2"/>
<text x="1644.2" y="781.8" font-size="31" text-anchor="middle" textLength="40.5" lengthAdjust="spacingAndGlyphs">***</text>
<text transform="translate(1403 782) rotate(-90)" x="0" y="0" font-size="24.5" text-anchor="middle" textLength="205.5" lengthAdjust="spacingAndGlyphs"><tspan font-style="italic">KRAS</tspan> essentiality</text>
<text transform="translate(1525 871.1) rotate(-90)" x="0" y="0" font-size="25.5" text-anchor="middle" textLength="102.7" lengthAdjust="spacingAndGlyphs">Essential</text>
<line x1="1537.6" y1="828.5" x2="1537.6" y2="905.7" stroke="#46536b" stroke-width="3.8"/>
<polygon points="1537.6,917.2 1531.1,901.2 1537.6,904.7 1544.1,901.2" fill="#46536b"/>
<text transform="translate(1561 974) rotate(-45)" x="0" y="0" font-size="25" text-anchor="end">KRAS (WT)</text>
<text transform="translate(1657 975) rotate(-45)" x="0" y="0" font-size="25" text-anchor="end">KRAS (MUT)</text>
<path d="M916.7 1136.9V1451.9H1293" fill="none" stroke="#2b2b2b" stroke-width="1.6"/>
<line x1="906.5" y1="1149.7" x2="916.7" y2="1149.7" stroke="#2b2b2b" stroke-width="1.5"/>
<text x="895" y="1157.1" font-size="21" text-anchor="end" textLength="12.3" lengthAdjust="spacingAndGlyphs">0</text>
<line x1="906.5" y1="1252.4" x2="916.7" y2="1252.4" stroke="#2b2b2b" stroke-width="1.5"/>
<text x="895" y="1259.8" font-size="21" text-anchor="end" textLength="43" lengthAdjust="spacingAndGlyphs">−0.5</text>
<line x1="906.5" y1="1355" x2="916.7" y2="1355" stroke="#2b2b2b" stroke-width="1.5"/>
<text x="895" y="1362.4" font-size="21" text-anchor="end" textLength="39" lengthAdjust="spacingAndGlyphs">−1.0</text>
<line x1="959.7" y1="1451.9" x2="959.7" y2="1462.4" stroke="#2b2b2b" stroke-width="1.5"/>
<line x1="1032.2" y1="1451.9" x2="1032.2" y2="1462.4" stroke="#2b2b2b" stroke-width="1.5"/>
<line x1="1104.7" y1="1451.9" x2="1104.7" y2="1462.4" stroke="#2b2b2b" stroke-width="1.5"/>
<line x1="1177.2" y1="1451.9" x2="1177.2" y2="1462.4" stroke="#2b2b2b" stroke-width="1.5"/>
<line x1="1249.7" y1="1451.9" x2="1249.7" y2="1462.4" stroke="#2b2b2b" stroke-width="1.5"/>
<line x1="959.7" y1="1157.1" x2="959.7" y2="1175.7" stroke="#333" stroke-width="1.6"/>
<line x1="959.7" y1="1206.8" x2="959.7" y2="1228.3" stroke="#333" stroke-width="1.6"/>
<rect x="934.1" y="1175.7" width="51.3" height="31.1" fill="#fff" stroke="#333" stroke-width="1.6"/>
<line x1="934.1" y1="1189.8" x2="985.4" y2="1189.8" stroke="#0a0a0a" stroke-width="3.2"/>
<circle cx="959.7" cy="1262" r="3.4" fill="#0a0a0a"/>
<line x1="1032.2" y1="1159.4" x2="1032.2" y2="1196.9" stroke="#333" stroke-width="1.6"/>
<line x1="1032.2" y1="1223.5" x2="1032.2" y2="1258.8" stroke="#333" stroke-width="1.6"/>
<rect x="1006.6" y="1196.9" width="51.3" height="26.6" fill="#fff" stroke="#333" stroke-width="1.6"/>
<line x1="1006.6" y1="1210.7" x2="1057.9" y2="1210.7" stroke="#0a0a0a" stroke-width="3.2"/>
<circle cx="1032.2" cy="1262" r="3.4" fill="#0a0a0a"/>
<circle cx="1032.2" cy="1266.8" r="3.4" fill="#0a0a0a"/>
<line x1="1104.7" y1="1150.7" x2="1104.7" y2="1172.2" stroke="#333" stroke-width="1.6"/>
<line x1="1104.7" y1="1215.5" x2="1104.7" y2="1255.6" stroke="#333" stroke-width="1.6"/>
<rect x="1079" y="1172.2" width="51.3" height="43.3" fill="#fff" stroke="#333" stroke-width="1.6"/>
<line x1="1079" y1="1184" x2="1130.4" y2="1184" stroke="#0a0a0a" stroke-width="3.2"/>
<line x1="1177.2" y1="1187.6" x2="1177.2" y2="1198.5" stroke="#333" stroke-width="1.6"/>
<line x1="1177.2" y1="1214.2" x2="1177.2" y2="1231.5" stroke="#333" stroke-width="1.6"/>
<rect x="1151.5" y="1198.5" width="51.3" height="15.7" fill="#fff" stroke="#333" stroke-width="1.6"/>
<line x1="1151.5" y1="1205.9" x2="1202.9" y2="1205.9" stroke="#0a0a0a" stroke-width="3.2"/>
<circle cx="1177.2" cy="1274.8" r="3.4" fill="#0a0a0a"/>
<line x1="1249.7" y1="1264.6" x2="1249.7" y2="1302.8" stroke="#333" stroke-width="1.6"/>
<line x1="1249.7" y1="1353.4" x2="1249.7" y2="1425.6" stroke="#333" stroke-width="1.6"/>
<rect x="1224" y="1302.8" width="51.3" height="50.6" fill="#fff" stroke="#333" stroke-width="1.6"/>
<line x1="1224" y1="1326.8" x2="1275.4" y2="1326.8" stroke="#0a0a0a" stroke-width="3.2"/>
<circle cx="1249.7" cy="1437.5" r="3.4" fill="#0a0a0a"/>
<text x="1249.7" y="1251.3" font-size="31" text-anchor="middle" textLength="40.5" lengthAdjust="spacingAndGlyphs">***</text>
<text transform="translate(826.5 1293.3) rotate(-90)" x="0" y="0" font-size="24.5" text-anchor="middle" textLength="203.8" lengthAdjust="spacingAndGlyphs"><tspan font-style="italic">BRAF</tspan> essentiality</text>
<text transform="translate(952 1383.6) rotate(-90)" x="0" y="0" font-size="25.5" text-anchor="middle" textLength="104.3" lengthAdjust="spacingAndGlyphs">Essential</text>
<line x1="962.3" y1="1342.9" x2="962.3" y2="1418.9" stroke="#46536b" stroke-width="3.8"/>
<polygon points="962.3,1430.4 955.8,1414.4 962.3,1417.9 968.8,1414.4" fill="#46536b"/>
<text transform="translate(970.7 1483) rotate(-45)" x="0" y="0" font-size="24" text-anchor="end">BRCA</text>
<text transform="translate(1043.2 1483) rotate(-45)" x="0" y="0" font-size="24" text-anchor="end">CRC</text>
<text transform="translate(1115.7 1483) rotate(-45)" x="0" y="0" font-size="24" text-anchor="end">NSCLC</text>
<text transform="translate(1188.2 1483) rotate(-45)" x="0" y="0" font-size="24" text-anchor="end">PDAC</text>
<text transform="translate(1260.7 1483) rotate(-45)" x="0" y="0" font-size="24" text-anchor="end">CM</text>
<path d="M1498.1 1135.7V1456.2H1704" fill="none" stroke="#2b2b2b" stroke-width="1.6"/>
<line x1="1487.9" y1="1147.6" x2="1498.1" y2="1147.6" stroke="#2b2b2b" stroke-width="1.5"/>
<text x="1475.8" y="1155" font-size="21" text-anchor="end" textLength="12.3" lengthAdjust="spacingAndGlyphs">0</text>
<line x1="1487.9" y1="1253" x2="1498.1" y2="1253" stroke="#2b2b2b" stroke-width="1.5"/>
<text x="1475.8" y="1260.4" font-size="21" text-anchor="end" textLength="43" lengthAdjust="spacingAndGlyphs">−0.5</text>
<line x1="1487.9" y1="1358.4" x2="1498.1" y2="1358.4" stroke="#2b2b2b" stroke-width="1.5"/>
<text x="1475.8" y="1365.8" font-size="21" text-anchor="end" textLength="39" lengthAdjust="spacingAndGlyphs">−1.0</text>
<line x1="1555" y1="1456.2" x2="1555" y2="1466.7" stroke="#2b2b2b" stroke-width="1.5"/>
<line x1="1647.5" y1="1456.2" x2="1647.5" y2="1466.7" stroke="#2b2b2b" stroke-width="1.5"/>
<line x1="1553.6" y1="1142.4" x2="1553.6" y2="1190.4" stroke="#333" stroke-width="1.6"/>
<line x1="1553.6" y1="1222.8" x2="1553.6" y2="1267.9" stroke="#333" stroke-width="1.6"/>
<rect x="1520.4" y="1190.4" width="66.4" height="32.4" fill="#fff" stroke="#333" stroke-width="1.6"/>
<line x1="1520.4" y1="1205.6" x2="1586.8" y2="1205.6" stroke="#0a0a0a" stroke-width="3.2"/>
<line x1="1648.2" y1="1174.4" x2="1648.2" y2="1203.8" stroke="#333" stroke-width="1.6"/>
<line x1="1648.2" y1="1341.2" x2="1648.2" y2="1442.1" stroke="#333" stroke-width="1.6"/>
<rect x="1615.3" y="1203.8" width="65.9" height="137.4" fill="#fff" stroke="#333" stroke-width="1.6"/>
<line x1="1615.3" y1="1292.5" x2="1681.2" y2="1292.5" stroke="#0a0a0a" stroke-width="3.2"/>
<text x="1647.5" y="1170.8" font-size="31" text-anchor="middle" textLength="40.5" lengthAdjust="spacingAndGlyphs">***</text>
<text transform="translate(1408 1296) rotate(-90)" x="0" y="0" font-size="24.5" text-anchor="middle" textLength="204.3" lengthAdjust="spacingAndGlyphs"><tspan font-style="italic">BRAF</tspan> essentiality</text>
<text transform="translate(1530 1389) rotate(-90)" x="0" y="0" font-size="25.5" text-anchor="middle" textLength="104.9" lengthAdjust="spacingAndGlyphs">Essential</text>
<line x1="1543.7" y1="1344" x2="1543.7" y2="1421.2" stroke="#46536b" stroke-width="3.8"/>
<polygon points="1543.7,1432.7 1537.2,1416.7 1543.7,1420.2 1550.2,1416.7" fill="#46536b"/>
<text transform="translate(1567 1487) rotate(-45)" x="0" y="0" font-size="25" text-anchor="end">BRAF (WT)</text>
<text transform="translate(1658 1488) rotate(-45)" x="0" y="0" font-size="25" text-anchor="end">BRAF (MUT)</text>
<g shape-rendering="crispEdges"><rect x="44.5" y="1794.3" width="24.5" height="45" fill="#fdbba8"/><rect x="68.6" y="1794.3" width="24.5" height="45" fill="#fdb09c"/><rect x="92.6" y="1794.3" width="24.5" height="45" fill="#fca58d"/><rect x="116.7" y="1794.3" width="24.5" height="45" fill="#e0d5f2"/><rect x="140.8" y="1794.3" width="24.5" height="45" fill="#fca88f"/><rect x="164.8" y="1794.3" width="24.5" height="45" fill="#f8dcd4"/><rect x="188.9" y="1794.3" width="24.5" height="45" fill="#ececec"/><rect x="212.9" y="1794.3" width="24.5" height="45" fill="#f3e3df"/><rect x="237" y="1794.3" width="24.5" height="45" fill="#fad4ca"/><rect x="261.1" y="1794.3" width="24.5" height="45" fill="#f4e0da"/><rect x="285.1" y="1794.3" width="24.5" height="45" fill="#fdc6b8"/><rect x="309.2" y="1794.3" width="24.5" height="45" fill="#ff7f5f"/><rect x="333.3" y="1794.3" width="24.5" height="45" fill="#f3e3df"/><rect x="357.3" y="1794.3" width="24.5" height="45" fill="#efeae8"/><rect x="381.4" y="1794.3" width="24.5" height="45" fill="#e0d5f4"/><rect x="405.5" y="1794.3" width="24.5" height="45" fill="#fdab93"/><rect x="429.5" y="1794.3" width="24.5" height="45" fill="#b898f8"/><rect x="453.6" y="1794.3" width="24.5" height="45" fill="#b898f8"/><rect x="477.7" y="1794.3" width="24.5" height="45" fill="#fdbda9"/><rect x="501.7" y="1794.3" width="24.5" height="45" fill="#5528ff"/><rect x="525.8" y="1794.3" width="24.5" height="45" fill="#f0e9e8"/><rect x="549.8" y="1794.3" width="24.5" height="45" fill="#1a00ff"/><rect x="573.9" y="1794.3" width="24.5" height="45" fill="#eae8ec"/><rect x="598" y="1794.3" width="24.5" height="45" fill="#f4e4de"/><rect x="622" y="1794.3" width="24.5" height="45" fill="#b08cf6"/><rect x="44.5" y="1838.9" width="24.5" height="45" fill="#f7dcd6"/><rect x="68.6" y="1838.9" width="24.5" height="45" fill="#fcc9bb"/><rect x="92.6" y="1838.9" width="24.5" height="45" fill="#fca58d"/><rect x="116.7" y="1838.9" width="24.5" height="45" fill="#fdcfc4"/><rect x="140.8" y="1838.9" width="24.5" height="45" fill="#fdb4a0"/><rect x="164.8" y="1838.9" width="24.5" height="45" fill="#fad7ce"/><rect x="188.9" y="1838.9" width="24.5" height="45" fill="#fad6cc"/><rect x="212.9" y="1838.9" width="24.5" height="45" fill="#f7dbd3"/><rect x="237" y="1838.9" width="24.5" height="45" fill="#fdbaa6"/><rect x="261.1" y="1838.9" width="24.5" height="45" fill="#fdb6a2"/><rect x="285.1" y="1838.9" width="24.5" height="45" fill="#fad4ca"/><rect x="309.2" y="1838.9" width="24.5" height="45" fill="#fdbba8"/><rect x="333.3" y="1838.9" width="24.5" height="45" fill="#e0d8f0"/><rect x="357.3" y="1838.9" width="24.5" height="45" fill="#c6a8f5"/><rect x="381.4" y="1838.9" width="24.5" height="45" fill="#f0ecea"/><rect x="405.5" y="1838.9" width="24.5" height="45" fill="#f4e4de"/><rect x="429.5" y="1838.9" width="24.5" height="45" fill="#b08ef9"/><rect x="453.6" y="1838.9" width="24.5" height="45" fill="#9b78f9"/><rect x="477.7" y="1838.9" width="24.5" height="45" fill="#fda387"/><rect x="501.7" y="1838.9" width="24.5" height="45" fill="#ac88f7"/><rect x="525.8" y="1838.9" width="24.5" height="45" fill="#fdab93"/><rect x="549.8" y="1838.9" width="24.5" height="45" fill="#6a3eff"/><rect x="573.9" y="1838.9" width="24.5" height="45" fill="#fdab93"/><rect x="598" y="1838.9" width="24.5" height="45" fill="#d4c0f5"/><rect x="622" y="1838.9" width="24.5" height="45" fill="#4a22ff"/><rect x="44.5" y="1883.5" width="24.5" height="45" fill="#fdcbbd"/><rect x="68.6" y="1883.5" width="24.5" height="45" fill="#ff7f5f"/><rect x="92.6" y="1883.5" width="24.5" height="45" fill="#f8dad2"/><rect x="116.7" y="1883.5" width="24.5" height="45" fill="#f8dad2"/><rect x="140.8" y="1883.5" width="24.5" height="45" fill="#fdbaa7"/><rect x="164.8" y="1883.5" width="24.5" height="45" fill="#fdcbbe"/><rect x="188.9" y="1883.5" width="24.5" height="45" fill="#f2e3df"/><rect x="212.9" y="1883.5" width="24.5" height="45" fill="#fdc0ae"/><rect x="237" y="1883.5" width="24.5" height="45" fill="#eeeceb"/><rect x="261.1" y="1883.5" width="24.5" height="45" fill="#ff7f5f"/><rect x="285.1" y="1883.5" width="24.5" height="45" fill="#efe9e7"/><rect x="309.2" y="1883.5" width="24.5" height="45" fill="#fdc0ae"/><rect x="333.3" y="1883.5" width="24.5" height="45" fill="#f8dcd4"/><rect x="357.3" y="1883.5" width="24.5" height="45" fill="#f8dcd4"/><rect x="381.4" y="1883.5" width="24.5" height="45" fill="#a880f8"/><rect x="405.5" y="1883.5" width="24.5" height="45" fill="#ddd0f3"/><rect x="429.5" y="1883.5" width="24.5" height="45" fill="#fd9a80"/><rect x="453.6" y="1883.5" width="24.5" height="45" fill="#ac88f7"/><rect x="477.7" y="1883.5" width="24.5" height="45" fill="#ac88f7"/><rect x="501.7" y="1883.5" width="24.5" height="45" fill="#6a3eff"/><rect x="525.8" y="1883.5" width="24.5" height="45" fill="#f1e7e5"/><rect x="549.8" y="1883.5" width="24.5" height="45" fill="#a47ef8"/><rect x="573.9" y="1883.5" width="24.5" height="45" fill="#e2daf0"/><rect x="598" y="1883.5" width="24.5" height="45" fill="#fdc3b2"/><rect x="622" y="1883.5" width="24.5" height="45" fill="#7a48fc"/><rect x="44.5" y="1928.2" width="24.5" height="45" fill="#fdcdc2"/><rect x="68.6" y="1928.2" width="24.5" height="45" fill="#f9d4ca"/><rect x="92.6" y="1928.2" width="24.5" height="45" fill="#b99bf7"/><rect x="116.7" y="1928.2" width="24.5" height="45" fill="#fdb9a6"/><rect x="140.8" y="1928.2" width="24.5" height="45" fill="#fdb9a6"/><rect x="164.8" y="1928.2" width="24.5" height="45" fill="#fc9a80"/><rect x="188.9" y="1928.2" width="24.5" height="45" fill="#fc9e84"/><rect x="212.9" y="1928.2" width="24.5" height="45" fill="#fc9a80"/><rect x="237" y="1928.2" width="24.5" height="45" fill="#fdbba8"/><rect x="261.1" y="1928.2" width="24.5" height="45" fill="#d3bff4"/><rect x="285.1" y="1928.2" width="24.5" height="45" fill="#fdcbbe"/><rect x="309.2" y="1928.2" width="24.5" height="45" fill="#fdc3b2"/><rect x="333.3" y="1928.2" width="24.5" height="45" fill="#f8dcd4"/><rect x="357.3" y="1928.2" width="24.5" height="45" fill="#b394f7"/><rect x="381.4" y="1928.2" width="24.5" height="45" fill="#e8e4f0"/><rect x="405.5" y="1928.2" width="24.5" height="45" fill="#fdc3b2"/><rect x="429.5" y="1928.2" width="24.5" height="45" fill="#f2e4e0"/><rect x="453.6" y="1928.2" width="24.5" height="45" fill="#ececec"/><rect x="477.7" y="1928.2" width="24.5" height="45" fill="#e8e6ee"/><rect x="501.7" y="1928.2" width="24.5" height="45" fill="#6a3eff"/><rect x="525.8" y="1928.2" width="24.5" height="45" fill="#f6e0d8"/><rect x="549.8" y="1928.2" width="24.5" height="45" fill="#cdb8f5"/><rect x="573.9" y="1928.2" width="24.5" height="45" fill="#e4dcf0"/><rect x="598" y="1928.2" width="24.5" height="45" fill="#dccdf3"/><rect x="622" y="1928.2" width="24.5" height="45" fill="#0000ff"/><rect x="44.5" y="1972.8" width="24.5" height="45" fill="#f7dcd6"/><rect x="68.6" y="1972.8" width="24.5" height="45" fill="#ff8c6e"/><rect x="92.6" y="1972.8" width="24.5" height="45" fill="#ececec"/><rect x="116.7" y="1972.8" width="24.5" height="45" fill="#fdc0ae"/><rect x="140.8" y="1972.8" width="24.5" height="45" fill="#ececec"/><rect x="164.8" y="1972.8" width="24.5" height="45" fill="#fdcdc2"/><rect x="188.9" y="1972.8" width="24.5" height="45" fill="#efe9e7"/><rect x="212.9" y="1972.8" width="24.5" height="45" fill="#fc9e84"/><rect x="237" y="1972.8" width="24.5" height="45" fill="#fdbba8"/><rect x="261.1" y="1972.8" width="24.5" height="45" fill="#fdcdc2"/><rect x="285.1" y="1972.8" width="24.5" height="45" fill="#f8dad2"/><rect x="309.2" y="1972.8" width="24.5" height="45" fill="#e6e0ee"/><rect x="333.3" y="1972.8" width="24.5" height="45" fill="#f4e4de"/><rect x="357.3" y="1972.8" width="24.5" height="45" fill="#dccdf3"/><rect x="381.4" y="1972.8" width="24.5" height="45" fill="#fdb09a"/><rect x="405.5" y="1972.8" width="24.5" height="45" fill="#fdb8a5"/><rect x="429.5" y="1972.8" width="24.5" height="45" fill="#e0d5f2"/><rect x="453.6" y="1972.8" width="24.5" height="45" fill="#e6dff0"/><rect x="477.7" y="1972.8" width="24.5" height="45" fill="#f8dcd4"/><rect x="501.7" y="1972.8" width="24.5" height="45" fill="#6a3eff"/><rect x="525.8" y="1972.8" width="24.5" height="45" fill="#9066fb"/><rect x="549.8" y="1972.8" width="24.5" height="45" fill="#5528ff"/><rect x="573.9" y="1972.8" width="24.5" height="45" fill="#fdc8b8"/><rect x="598" y="1972.8" width="24.5" height="45" fill="#fdc0ae"/><rect x="622" y="1972.8" width="24.5" height="45" fill="#6a3eff"/><rect x="44.5" y="2017.4" width="24.5" height="45" fill="#ff8466"/><rect x="68.6" y="2017.4" width="24.5" height="45" fill="#fc9a80"/><rect x="92.6" y="2017.4" width="24.5" height="45" fill="#ff7f5f"/><rect x="116.7" y="2017.4" width="24.5" height="45" fill="#dcd3f4"/><rect x="140.8" y="2017.4" width="24.5" height="45" fill="#f2e6e4"/><rect x="164.8" y="2017.4" width="24.5" height="45" fill="#fdcbbe"/><rect x="188.9" y="2017.4" width="24.5" height="45" fill="#e4dcf0"/><rect x="212.9" y="2017.4" width="24.5" height="45" fill="#fdc8b9"/><rect x="237" y="2017.4" width="24.5" height="45" fill="#fcae98"/><rect x="261.1" y="2017.4" width="24.5" height="45" fill="#b99bf7"/><rect x="285.1" y="2017.4" width="24.5" height="45" fill="#fdcbbe"/><rect x="309.2" y="2017.4" width="24.5" height="45" fill="#fdbba8"/><rect x="333.3" y="2017.4" width="24.5" height="45" fill="#c7adf5"/><rect x="357.3" y="2017.4" width="24.5" height="45" fill="#ff8c6e"/><rect x="381.4" y="2017.4" width="24.5" height="45" fill="#fbd4c8"/><rect x="405.5" y="2017.4" width="24.5" height="45" fill="#ac88f7"/><rect x="429.5" y="2017.4" width="24.5" height="45" fill="#c7a8f5"/><rect x="453.6" y="2017.4" width="24.5" height="45" fill="#fcd3c7"/><rect x="477.7" y="2017.4" width="24.5" height="45" fill="#e0d5f2"/><rect x="501.7" y="2017.4" width="24.5" height="45" fill="#8a5cfa"/><rect x="525.8" y="2017.4" width="24.5" height="45" fill="#fda387"/><rect x="549.8" y="2017.4" width="24.5" height="45" fill="#9066fb"/><rect x="573.9" y="2017.4" width="24.5" height="45" fill="#b898f8"/><rect x="598" y="2017.4" width="24.5" height="45" fill="#d4c0f5"/><rect x="622" y="2017.4" width="24.5" height="45" fill="#b08cf6"/><rect x="44.5" y="2062" width="24.5" height="45" fill="#fdc0ae"/><rect x="68.6" y="2062" width="24.5" height="45" fill="#ff8c6e"/><rect x="92.6" y="2062" width="24.5" height="45" fill="#fcae98"/><rect x="116.7" y="2062" width="24.5" height="45" fill="#f9d8cf"/><rect x="140.8" y="2062" width="24.5" height="45" fill="#fcaa93"/><rect x="164.8" y="2062" width="24.5" height="45" fill="#ff8466"/><rect x="188.9" y="2062" width="24.5" height="45" fill="#fdc3b2"/><rect x="212.9" y="2062" width="24.5" height="45" fill="#e6e0ee"/><rect x="237" y="2062" width="24.5" height="45" fill="#fad6cc"/><rect x="261.1" y="2062" width="24.5" height="45" fill="#e0d8f0"/><rect x="285.1" y="2062" width="24.5" height="45" fill="#cbb3f5"/><rect x="309.2" y="2062" width="24.5" height="45" fill="#fdbba8"/><rect x="333.3" y="2062" width="24.5" height="45" fill="#d4c2f5"/><rect x="357.3" y="2062" width="24.5" height="45" fill="#dccdf3"/><rect x="381.4" y="2062" width="24.5" height="45" fill="#e8e4f0"/><rect x="405.5" y="2062" width="24.5" height="45" fill="#e2d8f0"/><rect x="429.5" y="2062" width="24.5" height="45" fill="#c0a4f7"/><rect x="453.6" y="2062" width="24.5" height="45" fill="#fdc3b2"/><rect x="477.7" y="2062" width="24.5" height="45" fill="#d0bcf5"/><rect x="501.7" y="2062" width="24.5" height="45" fill="#e2daf0"/><rect x="525.8" y="2062" width="24.5" height="45" fill="#ff7f5f"/><rect x="549.8" y="2062" width="24.5" height="45" fill="#c9adf5"/><rect x="573.9" y="2062" width="24.5" height="45" fill="#e8e4f0"/><rect x="598" y="2062" width="24.5" height="45" fill="#6a3eff"/><rect x="622" y="2062" width="24.5" height="45" fill="#3010ff"/><rect x="44.5" y="2106.6" width="24.5" height="45" fill="#fdb6a2"/><rect x="68.6" y="2106.6" width="24.5" height="45" fill="#fdbba8"/><rect x="92.6" y="2106.6" width="24.5" height="45" fill="#f8dad2"/><rect x="116.7" y="2106.6" width="24.5" height="45" fill="#fc9e84"/><rect x="140.8" y="2106.6" width="24.5" height="45" fill="#fdb6a2"/><rect x="164.8" y="2106.6" width="24.5" height="45" fill="#c9b3f5"/><rect x="188.9" y="2106.6" width="24.5" height="45" fill="#f8dcd4"/><rect x="212.9" y="2106.6" width="24.5" height="45" fill="#e8e4f0"/><rect x="237" y="2106.6" width="24.5" height="45" fill="#d4c4f5"/><rect x="261.1" y="2106.6" width="24.5" height="45" fill="#fdb6a2"/><rect x="285.1" y="2106.6" width="24.5" height="45" fill="#ff8062"/><rect x="309.2" y="2106.6" width="24.5" height="45" fill="#f2e6e4"/><rect x="333.3" y="2106.6" width="24.5" height="45" fill="#fc9e84"/><rect x="357.3" y="2106.6" width="24.5" height="45" fill="#f8dcd4"/><rect x="381.4" y="2106.6" width="24.5" height="45" fill="#fdb09a"/><rect x="405.5" y="2106.6" width="24.5" height="45" fill="#c0a4f7"/><rect x="429.5" y="2106.6" width="24.5" height="45" fill="#e2daf0"/><rect x="453.6" y="2106.6" width="24.5" height="45" fill="#ac88f7"/><rect x="477.7" y="2106.6" width="24.5" height="45" fill="#e2daf0"/><rect x="501.7" y="2106.6" width="24.5" height="45" fill="#b898f8"/><rect x="525.8" y="2106.6" width="24.5" height="45" fill="#fadad2"/><rect x="549.8" y="2106.6" width="24.5" height="45" fill="#9066fb"/><rect x="573.9" y="2106.6" width="24.5" height="45" fill="#fdb09a"/><rect x="598" y="2106.6" width="24.5" height="45" fill="#7f52fa"/><rect x="622" y="2106.6" width="24.5" height="45" fill="#7f52fa"/><rect x="44.5" y="2151.3" width="24.5" height="45" fill="#ff8466"/><rect x="68.6" y="2151.3" width="24.5" height="45" fill="#fdbba8"/><rect x="92.6" y="2151.3" width="24.5" height="45" fill="#fdc8b9"/><rect x="116.7" y="2151.3" width="24.5" height="45" fill="#e6e0f0"/><rect x="140.8" y="2151.3" width="24.5" height="45" fill="#d4c2f5"/><rect x="164.8" y="2151.3" width="24.5" height="45" fill="#fdb9a6"/><rect x="188.9" y="2151.3" width="24.5" height="45" fill="#e4dff0"/><rect x="212.9" y="2151.3" width="24.5" height="45" fill="#f2e6e4"/><rect x="237" y="2151.3" width="24.5" height="45" fill="#e8e4f0"/><rect x="261.1" y="2151.3" width="24.5" height="45" fill="#fc9e84"/><rect x="285.1" y="2151.3" width="24.5" height="45" fill="#fc9e84"/><rect x="309.2" y="2151.3" width="24.5" height="45" fill="#d8c8f3"/><rect x="333.3" y="2151.3" width="24.5" height="45" fill="#fdcbbe"/><rect x="357.3" y="2151.3" width="24.5" height="45" fill="#fd9a80"/><rect x="381.4" y="2151.3" width="24.5" height="45" fill="#f8dcd4"/><rect x="405.5" y="2151.3" width="24.5" height="45" fill="#e2daf0"/><rect x="429.5" y="2151.3" width="24.5" height="45" fill="#b394f7"/><rect x="453.6" y="2151.3" width="24.5" height="45" fill="#dccdf3"/><rect x="477.7" y="2151.3" width="24.5" height="45" fill="#e4dcf0"/><rect x="501.7" y="2151.3" width="24.5" height="45" fill="#fdb8a5"/><rect x="525.8" y="2151.3" width="24.5" height="45" fill="#e4dff0"/><rect x="549.8" y="2151.3" width="24.5" height="45" fill="#c0a4f7"/><rect x="573.9" y="2151.3" width="24.5" height="45" fill="#f2e6e4"/><rect x="598" y="2151.3" width="24.5" height="45" fill="#0000ff"/><rect x="622" y="2151.3" width="24.5" height="45" fill="#6a3eff"/><rect x="44.5" y="2195.9" width="24.5" height="45" fill="#fdbba8"/><rect x="68.6" y="2195.9" width="24.5" height="45" fill="#c9b3f5"/><rect x="92.6" y="2195.9" width="24.5" height="45" fill="#fdcdc2"/><rect x="116.7" y="2195.9" width="24.5" height="45" fill="#ff8466"/><rect x="140.8" y="2195.9" width="24.5" height="45" fill="#fcaa93"/><rect x="164.8" y="2195.9" width="24.5" height="45" fill="#ff0000"/><rect x="188.9" y="2195.9" width="24.5" height="45" fill="#fc9e84"/><rect x="212.9" y="2195.9" width="24.5" height="45" fill="#f6e0d8"/><rect x="237" y="2195.9" width="24.5" height="45" fill="#fcae98"/><rect x="261.1" y="2195.9" width="24.5" height="45" fill="#e8e4f0"/><rect x="285.1" y="2195.9" width="24.5" height="45" fill="#f2e6e4"/><rect x="309.2" y="2195.9" width="24.5" height="45" fill="#c9b3f5"/><rect x="333.3" y="2195.9" width="24.5" height="45" fill="#e8e6ee"/><rect x="357.3" y="2195.9" width="24.5" height="45" fill="#c2a8f5"/><rect x="381.4" y="2195.9" width="24.5" height="45" fill="#c0a4f7"/><rect x="405.5" y="2195.9" width="24.5" height="45" fill="#ececec"/><rect x="429.5" y="2195.9" width="24.5" height="45" fill="#cdb8f5"/><rect x="453.6" y="2195.9" width="24.5" height="45" fill="#d2bff5"/><rect x="477.7" y="2195.9" width="24.5" height="45" fill="#f6e4de"/><rect x="501.7" y="2195.9" width="24.5" height="45" fill="#fdb09a"/><rect x="525.8" y="2195.9" width="24.5" height="45" fill="#8a5cfa"/><rect x="549.8" y="2195.9" width="24.5" height="45" fill="#b08cf6"/><rect x="573.9" y="2195.9" width="24.5" height="45" fill="#e2daf0"/><rect x="598" y="2195.9" width="24.5" height="45" fill="#a880f8"/><rect x="622" y="2195.9" width="24.5" height="45" fill="#c6a8f5"/></g>
<g shape-rendering="crispEdges"><rect x="44.5" y="1760.1" width="24.5" height="28.2" fill="#fefefe"/><rect x="68.6" y="1760.1" width="24.5" height="28.2" fill="#fbfcfd"/><rect x="92.6" y="1760.1" width="24.5" height="28.2" fill="#f9fbfc"/><rect x="116.7" y="1760.1" width="24.5" height="28.2" fill="#f4f8f9"/><rect x="140.8" y="1760.1" width="24.5" height="28.2" fill="#f2f7f8"/><rect x="164.8" y="1760.1" width="24.5" height="28.2" fill="#f0f5f7"/><rect x="188.9" y="1760.1" width="24.5" height="28.2" fill="#eef4f6"/><rect x="212.9" y="1760.1" width="24.5" height="28.2" fill="#ecf3f5"/><rect x="237" y="1760.1" width="24.5" height="28.2" fill="#e9f1f4"/><rect x="261.1" y="1760.1" width="24.5" height="28.2" fill="#e6eff2"/><rect x="285.1" y="1760.1" width="24.5" height="28.2" fill="#e3edf1"/><rect x="309.2" y="1760.1" width="24.5" height="28.2" fill="#d3e5ea"/><rect x="333.3" y="1760.1" width="24.5" height="28.2" fill="#d0e3e8"/><rect x="357.3" y="1760.1" width="24.5" height="28.2" fill="#c9dfe5"/><rect x="381.4" y="1760.1" width="24.5" height="28.2" fill="#c4dce3"/><rect x="405.5" y="1760.1" width="24.5" height="28.2" fill="#bfd9e1"/><rect x="429.5" y="1760.1" width="24.5" height="28.2" fill="#b9d6de"/><rect x="453.6" y="1760.1" width="24.5" height="28.2" fill="#b3d3dc"/><rect x="477.7" y="1760.1" width="24.5" height="28.2" fill="#aecfd9"/><rect x="501.7" y="1760.1" width="24.5" height="28.2" fill="#92c0cd"/><rect x="525.8" y="1760.1" width="24.5" height="28.2" fill="#8ebdcb"/><rect x="549.8" y="1760.1" width="24.5" height="28.2" fill="#5ba2b5"/><rect x="573.9" y="1760.1" width="24.5" height="28.2" fill="#56a0b3"/><rect x="598" y="1760.1" width="24.5" height="28.2" fill="#4c9aae"/><rect x="622" y="1760.1" width="24.5" height="28.2" fill="#3f93a9"/></g>
<text x="658.5" y="1783.5" font-size="25" textLength="143" lengthAdjust="spacingAndGlyphs">PDX (<tspan font-style="italic">n</tspan> = 25)</text>
<text x="658.5" y="1827.6" font-size="25">YBX1</text>
<text x="658.5" y="1872.2" font-size="25">CDS2</text>
<text x="658.5" y="1916.8" font-size="25">EMC4</text>
<text x="658.5" y="1961.5" font-size="25">SMARCA2</text>
<text x="658.5" y="2006.1" font-size="25">MBD6</text>
<text x="658.5" y="2050.7" font-size="25">NDE1</text>
<text x="658.5" y="2095.3" font-size="25">EMC6</text>
<text x="658.5" y="2139.9" font-size="25">TXNDC17</text>
<text x="658.5" y="2184.6" font-size="25">MAPK14</text>
<text x="658.5" y="2229.2" font-size="25">VPS39</text>
<text x="337.6" y="1671.2" font-size="24.5" text-anchor="middle" textLength="99" lengthAdjust="spacingAndGlyphs">Erlotinib</text>
<rect x="231.2" y="1684.6" width="274.8" height="28.8" fill="url(#gg)"/>
<path d="M258.1 1684.6v9M258.1 1704.4v9M337.4 1684.6v9M337.4 1704.4v9M417.7 1684.6v9M417.7 1704.4v9M497 1684.6v9M497 1704.4v9" stroke="#fff" stroke-width="1.4"/>
<text x="517" y="1707.7" font-size="25" textLength="181" lengthAdjust="spacingAndGlyphs">PDX size (mm<tspan dy="-10" font-size="16">3</tspan><tspan dy="10">)</tspan></text>
<text x="178.3" y="1741.8" font-size="22" text-anchor="middle" textLength="52.4" lengthAdjust="spacingAndGlyphs">−200</text>
<text x="258.1" y="1741.8" font-size="22" text-anchor="middle" textLength="12.9" lengthAdjust="spacingAndGlyphs">0</text>
<text x="337.4" y="1741.8" font-size="22" text-anchor="middle" textLength="40.7" lengthAdjust="spacingAndGlyphs">200</text>
<text x="417.7" y="1741.8" font-size="22" text-anchor="middle" textLength="41.4" lengthAdjust="spacingAndGlyphs">400</text>
<text x="497" y="1741.8" font-size="22" text-anchor="middle" textLength="40.7" lengthAdjust="spacingAndGlyphs">600</text>
<rect x="371" y="2252.9" width="123.9" height="25.5" fill="url(#gk)"/>
<path d="M372.9 2252.9v6M372.9 2272.4v6M401 2252.9v6M401 2272.4v6M430.3 2252.9v6M430.3 2272.4v6M459.2 2252.9v6M459.2 2272.4v6M488.5 2252.9v6M488.5 2272.4v6" stroke="#fff" stroke-width="1.3"/>
<text x="372.9" y="2303.6" font-size="21.5" text-anchor="middle">4</text>
<text x="401" y="2303.6" font-size="21.5" text-anchor="middle">2</text>
<text x="430.3" y="2303.6" font-size="21.5" text-anchor="middle">0</text>
<text x="459.2" y="2303.6" font-size="21.5" text-anchor="middle">−2</text>
<text x="488.5" y="2303.6" font-size="21.5" text-anchor="middle">−4</text>
<text x="506.1" y="2274.7" font-size="24.5" textLength="104" lengthAdjust="spacingAndGlyphs">Essential</text>
<g shape-rendering="crispEdges"><rect x="940.3" y="1796.6" width="9.5" height="45" fill="#fcccc0"/><rect x="949.4" y="1796.6" width="9.5" height="45" fill="#b392f7"/><rect x="958.5" y="1796.6" width="9.5" height="45" fill="#e7e4ef"/><rect x="967.6" y="1796.6" width="9.5" height="45" fill="#ff7353"/><rect x="976.8" y="1796.6" width="9.5" height="45" fill="#e0d8f1"/><rect x="985.9" y="1796.6" width="9.5" height="45" fill="#c5acf6"/><rect x="995" y="1796.6" width="18.6" height="45" fill="#fdbca9"/><rect x="1013.2" y="1796.6" width="9.5" height="45" fill="#fca88f"/><rect x="1022.3" y="1796.6" width="9.5" height="45" fill="#fdbca9"/><rect x="1031.5" y="1796.6" width="9.5" height="45" fill="#f7ddd5"/><rect x="1040.6" y="1796.6" width="9.5" height="45" fill="#e7e4ef"/><rect x="1049.7" y="1796.6" width="9.5" height="45" fill="#fd8f72"/><rect x="1058.8" y="1796.6" width="9.5" height="45" fill="#fca88f"/><rect x="1067.9" y="1796.6" width="9.5" height="45" fill="#c5acf6"/><rect x="1077" y="1796.6" width="9.5" height="45" fill="#fcccc0"/><rect x="1086.1" y="1796.6" width="9.5" height="45" fill="#fd8f72"/><rect x="1095.3" y="1796.6" width="9.5" height="45" fill="#e0d8f1"/><rect x="1104.4" y="1796.6" width="9.5" height="45" fill="#e7e4ef"/><rect x="1113.5" y="1796.6" width="9.5" height="45" fill="#fdbca9"/><rect x="1122.6" y="1796.6" width="18.6" height="45" fill="#e0d8f1"/><rect x="1140.8" y="1796.6" width="9.5" height="45" fill="#fcccc0"/><rect x="1149.9" y="1796.6" width="9.5" height="45" fill="#e0d8f1"/><rect x="1159.1" y="1796.6" width="9.5" height="45" fill="#c5acf6"/><rect x="1168.2" y="1796.6" width="9.5" height="45" fill="#6236fd"/><rect x="1177.3" y="1796.6" width="9.5" height="45" fill="#ececec"/><rect x="1186.4" y="1796.6" width="9.5" height="45" fill="#fcccc0"/><rect x="1195.5" y="1796.6" width="9.5" height="45" fill="#d5c6f5"/><rect x="1204.6" y="1796.6" width="9.5" height="45" fill="#f7ddd5"/><rect x="1213.8" y="1796.6" width="9.5" height="45" fill="#fcccc0"/><rect x="1222.9" y="1796.6" width="9.5" height="45" fill="#f7ddd5"/><rect x="1232" y="1796.6" width="9.5" height="45" fill="#e0d8f1"/><rect x="1241.1" y="1796.6" width="18.6" height="45" fill="#fca88f"/><rect x="1259.3" y="1796.6" width="9.5" height="45" fill="#fd8f72"/><rect x="1268.4" y="1796.6" width="18.6" height="45" fill="#fcccc0"/><rect x="1286.7" y="1796.6" width="9.5" height="45" fill="#e0d8f1"/><rect x="1295.8" y="1796.6" width="9.5" height="45" fill="#fdbca9"/><rect x="1304.9" y="1796.6" width="9.5" height="45" fill="#d5c6f5"/><rect x="1314" y="1796.6" width="9.5" height="45" fill="#fdbca9"/><rect x="1323.1" y="1796.6" width="9.5" height="45" fill="#c5acf6"/><rect x="1332.3" y="1796.6" width="9.5" height="45" fill="#fca88f"/><rect x="1341.4" y="1796.6" width="9.5" height="45" fill="#f7ddd5"/><rect x="1350.5" y="1796.6" width="9.5" height="45" fill="#fca88f"/><rect x="1359.6" y="1796.6" width="9.5" height="45" fill="#c5acf6"/><rect x="1368.7" y="1796.6" width="9.5" height="45" fill="#b392f7"/><rect x="1377.8" y="1796.6" width="9.5" height="45" fill="#e0d8f1"/><rect x="1386.9" y="1796.6" width="9.5" height="45" fill="#fdbca9"/><rect x="1396.1" y="1796.6" width="9.5" height="45" fill="#f2e7e4"/><rect x="1405.2" y="1796.6" width="9.5" height="45" fill="#ff7353"/><rect x="1414.3" y="1796.6" width="9.5" height="45" fill="#8558fb"/><rect x="1423.4" y="1796.6" width="18.6" height="45" fill="#f7ddd5"/><rect x="1441.6" y="1796.6" width="9.5" height="45" fill="#c5acf6"/><rect x="1450.7" y="1796.6" width="9.5" height="45" fill="#0a00ff"/><rect x="1459.9" y="1796.6" width="9.5" height="45" fill="#ececec"/><rect x="1469" y="1796.6" width="18.6" height="45" fill="#d5c6f5"/><rect x="1487.2" y="1796.6" width="9.5" height="45" fill="#b392f7"/><rect x="1496.3" y="1796.6" width="9.5" height="45" fill="#c5acf6"/><rect x="1505.4" y="1796.6" width="9.5" height="45" fill="#fcccc0"/><rect x="1514.6" y="1796.6" width="27.7" height="45" fill="#8558fb"/><rect x="940.3" y="1841.2" width="9.5" height="45" fill="#fdbca9"/><rect x="949.4" y="1841.2" width="9.5" height="45" fill="#f7ddd5"/><rect x="958.5" y="1841.2" width="9.5" height="45" fill="#e0d8f1"/><rect x="967.6" y="1841.2" width="9.5" height="45" fill="#fca88f"/><rect x="976.8" y="1841.2" width="9.5" height="45" fill="#fd8f72"/><rect x="985.9" y="1841.2" width="9.5" height="45" fill="#b392f7"/><rect x="995" y="1841.2" width="9.5" height="45" fill="#fca88f"/><rect x="1004.1" y="1841.2" width="9.5" height="45" fill="#ececec"/><rect x="1013.2" y="1841.2" width="9.5" height="45" fill="#fdbca9"/><rect x="1022.3" y="1841.2" width="9.5" height="45" fill="#f7ddd5"/><rect x="1031.5" y="1841.2" width="9.5" height="45" fill="#d5c6f5"/><rect x="1040.6" y="1841.2" width="9.5" height="45" fill="#fca88f"/><rect x="1049.7" y="1841.2" width="9.5" height="45" fill="#c5acf6"/><rect x="1058.8" y="1841.2" width="9.5" height="45" fill="#fd8f72"/><rect x="1067.9" y="1841.2" width="9.5" height="45" fill="#ececec"/><rect x="1077" y="1841.2" width="18.6" height="45" fill="#fdbca9"/><rect x="1095.3" y="1841.2" width="9.5" height="45" fill="#d5c6f5"/><rect x="1104.4" y="1841.2" width="9.5" height="45" fill="#6236fd"/><rect x="1113.5" y="1841.2" width="9.5" height="45" fill="#fcccc0"/><rect x="1122.6" y="1841.2" width="9.5" height="45" fill="#e7e4ef"/><rect x="1131.7" y="1841.2" width="9.5" height="45" fill="#fdbca9"/><rect x="1140.8" y="1841.2" width="9.5" height="45" fill="#fca88f"/><rect x="1149.9" y="1841.2" width="9.5" height="45" fill="#e0d8f1"/><rect x="1159.1" y="1841.2" width="9.5" height="45" fill="#f2e7e4"/><rect x="1168.2" y="1841.2" width="9.5" height="45" fill="#fca88f"/><rect x="1177.3" y="1841.2" width="9.5" height="45" fill="#d5c6f5"/><rect x="1186.4" y="1841.2" width="9.5" height="45" fill="#f2e7e4"/><rect x="1195.5" y="1841.2" width="9.5" height="45" fill="#e0d8f1"/><rect x="1204.6" y="1841.2" width="9.5" height="45" fill="#ececec"/><rect x="1213.8" y="1841.2" width="9.5" height="45" fill="#ff4d2e"/><rect x="1222.9" y="1841.2" width="9.5" height="45" fill="#e0d8f1"/><rect x="1232" y="1841.2" width="9.5" height="45" fill="#fd8f72"/><rect x="1241.1" y="1841.2" width="9.5" height="45" fill="#fcccc0"/><rect x="1250.2" y="1841.2" width="18.6" height="45" fill="#fca88f"/><rect x="1268.4" y="1841.2" width="9.5" height="45" fill="#ececec"/><rect x="1277.6" y="1841.2" width="9.5" height="45" fill="#a07cf8"/><rect x="1286.7" y="1841.2" width="9.5" height="45" fill="#fdbca9"/><rect x="1295.8" y="1841.2" width="9.5" height="45" fill="#b392f7"/><rect x="1304.9" y="1841.2" width="9.5" height="45" fill="#f7ddd5"/><rect x="1314" y="1841.2" width="9.5" height="45" fill="#b392f7"/><rect x="1323.1" y="1841.2" width="9.5" height="45" fill="#f7ddd5"/><rect x="1332.3" y="1841.2" width="9.5" height="45" fill="#f2e7e4"/><rect x="1341.4" y="1841.2" width="9.5" height="45" fill="#e7e4ef"/><rect x="1350.5" y="1841.2" width="9.5" height="45" fill="#c5acf6"/><rect x="1359.6" y="1841.2" width="9.5" height="45" fill="#d5c6f5"/><rect x="1368.7" y="1841.2" width="9.5" height="45" fill="#fdbca9"/><rect x="1377.8" y="1841.2" width="9.5" height="45" fill="#ececec"/><rect x="1386.9" y="1841.2" width="9.5" height="45" fill="#d5c6f5"/><rect x="1396.1" y="1841.2" width="9.5" height="45" fill="#ececec"/><rect x="1405.2" y="1841.2" width="9.5" height="45" fill="#fdbca9"/><rect x="1414.3" y="1841.2" width="9.5" height="45" fill="#c5acf6"/><rect x="1423.4" y="1841.2" width="9.5" height="45" fill="#fca88f"/><rect x="1432.5" y="1841.2" width="9.5" height="45" fill="#fcccc0"/><rect x="1441.6" y="1841.2" width="9.5" height="45" fill="#8558fb"/><rect x="1450.7" y="1841.2" width="9.5" height="45" fill="#fcccc0"/><rect x="1459.9" y="1841.2" width="9.5" height="45" fill="#b392f7"/><rect x="1469" y="1841.2" width="9.5" height="45" fill="#8558fb"/><rect x="1478.1" y="1841.2" width="9.5" height="45" fill="#b392f7"/><rect x="1487.2" y="1841.2" width="9.5" height="45" fill="#f7ddd5"/><rect x="1496.3" y="1841.2" width="9.5" height="45" fill="#8558fb"/><rect x="1505.4" y="1841.2" width="9.5" height="45" fill="#c5acf6"/><rect x="1514.6" y="1841.2" width="18.6" height="45" fill="#fcccc0"/><rect x="1532.8" y="1841.2" width="9.5" height="45" fill="#0a00ff"/><rect x="940.3" y="1885.8" width="9.5" height="45" fill="#f7ddd5"/><rect x="949.4" y="1885.8" width="9.5" height="45" fill="#e7e4ef"/><rect x="958.5" y="1885.8" width="9.5" height="45" fill="#fca88f"/><rect x="967.6" y="1885.8" width="9.5" height="45" fill="#fcccc0"/><rect x="976.8" y="1885.8" width="9.5" height="45" fill="#fd8f72"/><rect x="985.9" y="1885.8" width="9.5" height="45" fill="#f7ddd5"/><rect x="995" y="1885.8" width="9.5" height="45" fill="#ececec"/><rect x="1004.1" y="1885.8" width="9.5" height="45" fill="#d5c6f5"/><rect x="1013.2" y="1885.8" width="18.6" height="45" fill="#fcccc0"/><rect x="1031.5" y="1885.8" width="9.5" height="45" fill="#f7ddd5"/><rect x="1040.6" y="1885.8" width="9.5" height="45" fill="#fca88f"/><rect x="1049.7" y="1885.8" width="9.5" height="45" fill="#fdbca9"/><rect x="1058.8" y="1885.8" width="9.5" height="45" fill="#fca88f"/><rect x="1067.9" y="1885.8" width="18.6" height="45" fill="#e0d8f1"/><rect x="1086.1" y="1885.8" width="9.5" height="45" fill="#fdbca9"/><rect x="1095.3" y="1885.8" width="9.5" height="45" fill="#ff4d2e"/><rect x="1104.4" y="1885.8" width="9.5" height="45" fill="#fdbca9"/><rect x="1113.5" y="1885.8" width="9.5" height="45" fill="#e0d8f1"/><rect x="1122.6" y="1885.8" width="9.5" height="45" fill="#ff4d2e"/><rect x="1131.7" y="1885.8" width="9.5" height="45" fill="#fd8f72"/><rect x="1140.8" y="1885.8" width="9.5" height="45" fill="#e7e4ef"/><rect x="1149.9" y="1885.8" width="18.6" height="45" fill="#fcccc0"/><rect x="1168.2" y="1885.8" width="9.5" height="45" fill="#ececec"/><rect x="1177.3" y="1885.8" width="9.5" height="45" fill="#f7ddd5"/><rect x="1186.4" y="1885.8" width="9.5" height="45" fill="#fdbca9"/><rect x="1195.5" y="1885.8" width="9.5" height="45" fill="#f2e7e4"/><rect x="1204.6" y="1885.8" width="9.5" height="45" fill="#c5acf6"/><rect x="1213.8" y="1885.8" width="9.5" height="45" fill="#a07cf8"/><rect x="1222.9" y="1885.8" width="9.5" height="45" fill="#ff7353"/><rect x="1232" y="1885.8" width="9.5" height="45" fill="#c5acf6"/><rect x="1241.1" y="1885.8" width="9.5" height="45" fill="#e0d8f1"/><rect x="1250.2" y="1885.8" width="18.6" height="45" fill="#fcccc0"/><rect x="1268.4" y="1885.8" width="9.5" height="45" fill="#f2e7e4"/><rect x="1277.6" y="1885.8" width="9.5" height="45" fill="#fca88f"/><rect x="1286.7" y="1885.8" width="9.5" height="45" fill="#fd8f72"/><rect x="1295.8" y="1885.8" width="9.5" height="45" fill="#f2e7e4"/><rect x="1304.9" y="1885.8" width="9.5" height="45" fill="#d5c6f5"/><rect x="1314" y="1885.8" width="9.5" height="45" fill="#f2e7e4"/><rect x="1323.1" y="1885.8" width="9.5" height="45" fill="#e0d8f1"/><rect x="1332.3" y="1885.8" width="9.5" height="45" fill="#c5acf6"/><rect x="1341.4" y="1885.8" width="9.5" height="45" fill="#f7ddd5"/><rect x="1350.5" y="1885.8" width="9.5" height="45" fill="#8558fb"/><rect x="1359.6" y="1885.8" width="9.5" height="45" fill="#c5acf6"/><rect x="1368.7" y="1885.8" width="9.5" height="45" fill="#fdbca9"/><rect x="1377.8" y="1885.8" width="9.5" height="45" fill="#ececec"/><rect x="1386.9" y="1885.8" width="9.5" height="45" fill="#b392f7"/><rect x="1396.1" y="1885.8" width="9.5" height="45" fill="#c5acf6"/><rect x="1405.2" y="1885.8" width="9.5" height="45" fill="#ececec"/><rect x="1414.3" y="1885.8" width="18.6" height="45" fill="#d5c6f5"/><rect x="1432.5" y="1885.8" width="9.5" height="45" fill="#b392f7"/><rect x="1441.6" y="1885.8" width="9.5" height="45" fill="#c5acf6"/><rect x="1450.7" y="1885.8" width="9.5" height="45" fill="#f7ddd5"/><rect x="1459.9" y="1885.8" width="9.5" height="45" fill="#e0d8f1"/><rect x="1469" y="1885.8" width="9.5" height="45" fill="#8558fb"/><rect x="1478.1" y="1885.8" width="9.5" height="45" fill="#a07cf8"/><rect x="1487.2" y="1885.8" width="9.5" height="45" fill="#fdbca9"/><rect x="1496.3" y="1885.8" width="9.5" height="45" fill="#8558fb"/><rect x="1505.4" y="1885.8" width="9.5" height="45" fill="#fdbca9"/><rect x="1514.6" y="1885.8" width="9.5" height="45" fill="#a07cf8"/><rect x="1523.7" y="1885.8" width="9.5" height="45" fill="#6236fd"/><rect x="1532.8" y="1885.8" width="9.5" height="45" fill="#a07cf8"/><rect x="940.3" y="1930.5" width="9.5" height="45" fill="#c5acf6"/><rect x="949.4" y="1930.5" width="9.5" height="45" fill="#f7ddd5"/><rect x="958.5" y="1930.5" width="9.5" height="45" fill="#d5c6f5"/><rect x="967.6" y="1930.5" width="9.5" height="45" fill="#f7ddd5"/><rect x="976.8" y="1930.5" width="9.5" height="45" fill="#fd8f72"/><rect x="985.9" y="1930.5" width="9.5" height="45" fill="#f7ddd5"/><rect x="995" y="1930.5" width="9.5" height="45" fill="#ff7353"/><rect x="1004.1" y="1930.5" width="9.5" height="45" fill="#d5c6f5"/><rect x="1013.2" y="1930.5" width="9.5" height="45" fill="#b392f7"/><rect x="1022.3" y="1930.5" width="9.5" height="45" fill="#f2e7e4"/><rect x="1031.5" y="1930.5" width="9.5" height="45" fill="#b392f7"/><rect x="1040.6" y="1930.5" width="18.6" height="45" fill="#fca88f"/><rect x="1058.8" y="1930.5" width="9.5" height="45" fill="#fcccc0"/><rect x="1067.9" y="1930.5" width="9.5" height="45" fill="#fca88f"/><rect x="1077" y="1930.5" width="18.6" height="45" fill="#fcccc0"/><rect x="1095.3" y="1930.5" width="9.5" height="45" fill="#f7ddd5"/><rect x="1104.4" y="1930.5" width="9.5" height="45" fill="#ff0f00"/><rect x="1113.5" y="1930.5" width="9.5" height="45" fill="#fca88f"/><rect x="1122.6" y="1930.5" width="9.5" height="45" fill="#fdbca9"/><rect x="1131.7" y="1930.5" width="9.5" height="45" fill="#fd8f72"/><rect x="1140.8" y="1930.5" width="18.6" height="45" fill="#ececec"/><rect x="1159.1" y="1930.5" width="18.6" height="45" fill="#e7e4ef"/><rect x="1177.3" y="1930.5" width="9.5" height="45" fill="#fd8f72"/><rect x="1186.4" y="1930.5" width="9.5" height="45" fill="#ececec"/><rect x="1195.5" y="1930.5" width="9.5" height="45" fill="#d5c6f5"/><rect x="1204.6" y="1930.5" width="18.6" height="45" fill="#e0d8f1"/><rect x="1222.9" y="1930.5" width="9.5" height="45" fill="#fdbca9"/><rect x="1232" y="1930.5" width="9.5" height="45" fill="#fca88f"/><rect x="1241.1" y="1930.5" width="9.5" height="45" fill="#e7e4ef"/><rect x="1250.2" y="1930.5" width="9.5" height="45" fill="#fdbca9"/><rect x="1259.3" y="1930.5" width="9.5" height="45" fill="#f7ddd5"/><rect x="1268.4" y="1930.5" width="9.5" height="45" fill="#d5c6f5"/><rect x="1277.6" y="1930.5" width="9.5" height="45" fill="#fca88f"/><rect x="1286.7" y="1930.5" width="9.5" height="45" fill="#d5c6f5"/><rect x="1295.8" y="1930.5" width="9.5" height="45" fill="#fdbca9"/><rect x="1304.9" y="1930.5" width="9.5" height="45" fill="#b392f7"/><rect x="1314" y="1930.5" width="9.5" height="45" fill="#e0d8f1"/><rect x="1323.1" y="1930.5" width="9.5" height="45" fill="#6236fd"/><rect x="1332.3" y="1930.5" width="9.5" height="45" fill="#b392f7"/><rect x="1341.4" y="1930.5" width="9.5" height="45" fill="#fca88f"/><rect x="1350.5" y="1930.5" width="9.5" height="45" fill="#e7e4ef"/><rect x="1359.6" y="1930.5" width="9.5" height="45" fill="#f7ddd5"/><rect x="1368.7" y="1930.5" width="9.5" height="45" fill="#d5c6f5"/><rect x="1377.8" y="1930.5" width="9.5" height="45" fill="#0a00ff"/><rect x="1386.9" y="1930.5" width="9.5" height="45" fill="#e7e4ef"/><rect x="1396.1" y="1930.5" width="9.5" height="45" fill="#d5c6f5"/><rect x="1405.2" y="1930.5" width="9.5" height="45" fill="#fca88f"/><rect x="1414.3" y="1930.5" width="9.5" height="45" fill="#b392f7"/><rect x="1423.4" y="1930.5" width="9.5" height="45" fill="#d5c6f5"/><rect x="1432.5" y="1930.5" width="9.5" height="45" fill="#ff7353"/><rect x="1441.6" y="1930.5" width="9.5" height="45" fill="#fcccc0"/><rect x="1450.7" y="1930.5" width="9.5" height="45" fill="#a07cf8"/><rect x="1459.9" y="1930.5" width="18.6" height="45" fill="#c5acf6"/><rect x="1478.1" y="1930.5" width="18.6" height="45" fill="#e7e4ef"/><rect x="1496.3" y="1930.5" width="9.5" height="45" fill="#c5acf6"/><rect x="1505.4" y="1930.5" width="9.5" height="45" fill="#e7e4ef"/><rect x="1514.6" y="1930.5" width="9.5" height="45" fill="#d5c6f5"/><rect x="1523.7" y="1930.5" width="9.5" height="45" fill="#6236fd"/><rect x="1532.8" y="1930.5" width="9.5" height="45" fill="#a07cf8"/><rect x="940.3" y="1975.1" width="9.5" height="45" fill="#f7ddd5"/><rect x="949.4" y="1975.1" width="9.5" height="45" fill="#fcccc0"/><rect x="958.5" y="1975.1" width="9.5" height="45" fill="#ff4d2e"/><rect x="967.6" y="1975.1" width="9.5" height="45" fill="#f7ddd5"/><rect x="976.8" y="1975.1" width="9.5" height="45" fill="#fcccc0"/><rect x="985.9" y="1975.1" width="9.5" height="45" fill="#f7ddd5"/><rect x="995" y="1975.1" width="9.5" height="45" fill="#ececec"/><rect x="1004.1" y="1975.1" width="9.5" height="45" fill="#f7ddd5"/><rect x="1013.2" y="1975.1" width="9.5" height="45" fill="#b392f7"/><rect x="1022.3" y="1975.1" width="9.5" height="45" fill="#f7ddd5"/><rect x="1031.5" y="1975.1" width="9.5" height="45" fill="#b392f7"/><rect x="1040.6" y="1975.1" width="9.5" height="45" fill="#fca88f"/><rect x="1049.7" y="1975.1" width="18.6" height="45" fill="#f7ddd5"/><rect x="1067.9" y="1975.1" width="9.5" height="45" fill="#d5c6f5"/><rect x="1077" y="1975.1" width="9.5" height="45" fill="#f2e7e4"/><rect x="1086.1" y="1975.1" width="18.6" height="45" fill="#f7ddd5"/><rect x="1104.4" y="1975.1" width="9.5" height="45" fill="#ff4d2e"/><rect x="1113.5" y="1975.1" width="9.5" height="45" fill="#f2e7e4"/><rect x="1122.6" y="1975.1" width="9.5" height="45" fill="#ff7353"/><rect x="1131.7" y="1975.1" width="9.5" height="45" fill="#f2e7e4"/><rect x="1140.8" y="1975.1" width="27.7" height="45" fill="#f7ddd5"/><rect x="1168.2" y="1975.1" width="9.5" height="45" fill="#fca88f"/><rect x="1177.3" y="1975.1" width="9.5" height="45" fill="#f7ddd5"/><rect x="1186.4" y="1975.1" width="9.5" height="45" fill="#fcccc0"/><rect x="1195.5" y="1975.1" width="9.5" height="45" fill="#e7e4ef"/><rect x="1204.6" y="1975.1" width="9.5" height="45" fill="#f2e7e4"/><rect x="1213.8" y="1975.1" width="9.5" height="45" fill="#f7ddd5"/><rect x="1222.9" y="1975.1" width="9.5" height="45" fill="#f2e7e4"/><rect x="1232" y="1975.1" width="9.5" height="45" fill="#fdbca9"/><rect x="1241.1" y="1975.1" width="18.6" height="45" fill="#ececec"/><rect x="1259.3" y="1975.1" width="9.5" height="45" fill="#e0d8f1"/><rect x="1268.4" y="1975.1" width="9.5" height="45" fill="#d5c6f5"/><rect x="1277.6" y="1975.1" width="9.5" height="45" fill="#fca88f"/><rect x="1286.7" y="1975.1" width="9.5" height="45" fill="#a07cf8"/><rect x="1295.8" y="1975.1" width="9.5" height="45" fill="#fd8f72"/><rect x="1304.9" y="1975.1" width="9.5" height="45" fill="#f7ddd5"/><rect x="1314" y="1975.1" width="9.5" height="45" fill="#d5c6f5"/><rect x="1323.1" y="1975.1" width="9.5" height="45" fill="#a07cf8"/><rect x="1332.3" y="1975.1" width="9.5" height="45" fill="#fcccc0"/><rect x="1341.4" y="1975.1" width="27.7" height="45" fill="#c5acf6"/><rect x="1368.7" y="1975.1" width="9.5" height="45" fill="#fdbca9"/><rect x="1377.8" y="1975.1" width="9.5" height="45" fill="#a07cf8"/><rect x="1386.9" y="1975.1" width="9.5" height="45" fill="#f7ddd5"/><rect x="1396.1" y="1975.1" width="9.5" height="45" fill="#e0d8f1"/><rect x="1405.2" y="1975.1" width="18.6" height="45" fill="#fdbca9"/><rect x="1423.4" y="1975.1" width="9.5" height="45" fill="#6236fd"/><rect x="1432.5" y="1975.1" width="9.5" height="45" fill="#f7ddd5"/><rect x="1441.6" y="1975.1" width="9.5" height="45" fill="#fca88f"/><rect x="1450.7" y="1975.1" width="9.5" height="45" fill="#c5acf6"/><rect x="1459.9" y="1975.1" width="9.5" height="45" fill="#6236fd"/><rect x="1469" y="1975.1" width="9.5" height="45" fill="#d5c6f5"/><rect x="1478.1" y="1975.1" width="9.5" height="45" fill="#fcccc0"/><rect x="1487.2" y="1975.1" width="9.5" height="45" fill="#f7ddd5"/><rect x="1496.3" y="1975.1" width="9.5" height="45" fill="#6236fd"/><rect x="1505.4" y="1975.1" width="9.5" height="45" fill="#fcccc0"/><rect x="1514.6" y="1975.1" width="9.5" height="45" fill="#fdbca9"/><rect x="1523.7" y="1975.1" width="9.5" height="45" fill="#6236fd"/><rect x="1532.8" y="1975.1" width="9.5" height="45" fill="#a07cf8"/><rect x="940.3" y="2019.7" width="9.5" height="45" fill="#fcccc0"/><rect x="949.4" y="2019.7" width="9.5" height="45" fill="#fd8f72"/><rect x="958.5" y="2019.7" width="9.5" height="45" fill="#e7e4ef"/><rect x="967.6" y="2019.7" width="9.5" height="45" fill="#fdbca9"/><rect x="976.8" y="2019.7" width="18.6" height="45" fill="#fcccc0"/><rect x="995" y="2019.7" width="9.5" height="45" fill="#b392f7"/><rect x="1004.1" y="2019.7" width="9.5" height="45" fill="#fca88f"/><rect x="1013.2" y="2019.7" width="18.6" height="45" fill="#fcccc0"/><rect x="1031.5" y="2019.7" width="9.5" height="45" fill="#e0d8f1"/><rect x="1040.6" y="2019.7" width="9.5" height="45" fill="#fcccc0"/><rect x="1049.7" y="2019.7" width="9.5" height="45" fill="#f2e7e4"/><rect x="1058.8" y="2019.7" width="9.5" height="45" fill="#ececec"/><rect x="1067.9" y="2019.7" width="9.5" height="45" fill="#fdbca9"/><rect x="1077" y="2019.7" width="9.5" height="45" fill="#f7ddd5"/><rect x="1086.1" y="2019.7" width="9.5" height="45" fill="#ececec"/><rect x="1095.3" y="2019.7" width="9.5" height="45" fill="#fdbca9"/><rect x="1104.4" y="2019.7" width="18.6" height="45" fill="#f2e7e4"/><rect x="1122.6" y="2019.7" width="9.5" height="45" fill="#fca88f"/><rect x="1131.7" y="2019.7" width="9.5" height="45" fill="#e7e4ef"/><rect x="1140.8" y="2019.7" width="9.5" height="45" fill="#fdbca9"/><rect x="1149.9" y="2019.7" width="9.5" height="45" fill="#b392f7"/><rect x="1159.1" y="2019.7" width="9.5" height="45" fill="#f7ddd5"/><rect x="1168.2" y="2019.7" width="18.6" height="45" fill="#fd8f72"/><rect x="1186.4" y="2019.7" width="9.5" height="45" fill="#f2e7e4"/><rect x="1195.5" y="2019.7" width="9.5" height="45" fill="#fca88f"/><rect x="1204.6" y="2019.7" width="9.5" height="45" fill="#f7ddd5"/><rect x="1213.8" y="2019.7" width="9.5" height="45" fill="#fd8f72"/><rect x="1222.9" y="2019.7" width="9.5" height="45" fill="#6236fd"/><rect x="1232" y="2019.7" width="9.5" height="45" fill="#fcccc0"/><rect x="1241.1" y="2019.7" width="9.5" height="45" fill="#fdbca9"/><rect x="1250.2" y="2019.7" width="9.5" height="45" fill="#fcccc0"/><rect x="1259.3" y="2019.7" width="9.5" height="45" fill="#fca88f"/><rect x="1268.4" y="2019.7" width="18.6" height="45" fill="#f7ddd5"/><rect x="1286.7" y="2019.7" width="9.5" height="45" fill="#a07cf8"/><rect x="1295.8" y="2019.7" width="9.5" height="45" fill="#fdbca9"/><rect x="1304.9" y="2019.7" width="9.5" height="45" fill="#c5acf6"/><rect x="1314" y="2019.7" width="9.5" height="45" fill="#ececec"/><rect x="1323.1" y="2019.7" width="9.5" height="45" fill="#d5c6f5"/><rect x="1332.3" y="2019.7" width="9.5" height="45" fill="#f2e7e4"/><rect x="1341.4" y="2019.7" width="9.5" height="45" fill="#d5c6f5"/><rect x="1350.5" y="2019.7" width="9.5" height="45" fill="#a07cf8"/><rect x="1359.6" y="2019.7" width="9.5" height="45" fill="#f7ddd5"/><rect x="1368.7" y="2019.7" width="9.5" height="45" fill="#e0d8f1"/><rect x="1377.8" y="2019.7" width="9.5" height="45" fill="#8558fb"/><rect x="1386.9" y="2019.7" width="9.5" height="45" fill="#ececec"/><rect x="1396.1" y="2019.7" width="9.5" height="45" fill="#b392f7"/><rect x="1405.2" y="2019.7" width="9.5" height="45" fill="#fdbca9"/><rect x="1414.3" y="2019.7" width="9.5" height="45" fill="#f2e7e4"/><rect x="1423.4" y="2019.7" width="9.5" height="45" fill="#fdbca9"/><rect x="1432.5" y="2019.7" width="9.5" height="45" fill="#fcccc0"/><rect x="1441.6" y="2019.7" width="9.5" height="45" fill="#ececec"/><rect x="1450.7" y="2019.7" width="9.5" height="45" fill="#e0d8f1"/><rect x="1459.9" y="2019.7" width="9.5" height="45" fill="#6236fd"/><rect x="1469" y="2019.7" width="18.6" height="45" fill="#fcccc0"/><rect x="1487.2" y="2019.7" width="9.5" height="45" fill="#c5acf6"/><rect x="1496.3" y="2019.7" width="9.5" height="45" fill="#8558fb"/><rect x="1505.4" y="2019.7" width="9.5" height="45" fill="#f7ddd5"/><rect x="1514.6" y="2019.7" width="9.5" height="45" fill="#0a00ff"/><rect x="1523.7" y="2019.7" width="9.5" height="45" fill="#ececec"/><rect x="1532.8" y="2019.7" width="9.5" height="45" fill="#a07cf8"/><rect x="940.3" y="2064.3" width="9.5" height="45" fill="#ff4d2e"/><rect x="949.4" y="2064.3" width="9.5" height="45" fill="#fdbca9"/><rect x="958.5" y="2064.3" width="9.5" height="45" fill="#e7e4ef"/><rect x="967.6" y="2064.3" width="9.5" height="45" fill="#fca88f"/><rect x="976.8" y="2064.3" width="9.5" height="45" fill="#e7e4ef"/><rect x="985.9" y="2064.3" width="9.5" height="45" fill="#fd8f72"/><rect x="995" y="2064.3" width="9.5" height="45" fill="#b392f7"/><rect x="1004.1" y="2064.3" width="9.5" height="45" fill="#fdbca9"/><rect x="1013.2" y="2064.3" width="9.5" height="45" fill="#c5acf6"/><rect x="1022.3" y="2064.3" width="9.5" height="45" fill="#ececec"/><rect x="1031.5" y="2064.3" width="9.5" height="45" fill="#e0d8f1"/><rect x="1040.6" y="2064.3" width="9.5" height="45" fill="#fcccc0"/><rect x="1049.7" y="2064.3" width="9.5" height="45" fill="#fdbca9"/><rect x="1058.8" y="2064.3" width="9.5" height="45" fill="#fca88f"/><rect x="1067.9" y="2064.3" width="9.5" height="45" fill="#f7ddd5"/><rect x="1077" y="2064.3" width="9.5" height="45" fill="#ff4d2e"/><rect x="1086.1" y="2064.3" width="9.5" height="45" fill="#f7ddd5"/><rect x="1095.3" y="2064.3" width="9.5" height="45" fill="#c5acf6"/><rect x="1104.4" y="2064.3" width="9.5" height="45" fill="#ececec"/><rect x="1113.5" y="2064.3" width="9.5" height="45" fill="#ff7353"/><rect x="1122.6" y="2064.3" width="9.5" height="45" fill="#d5c6f5"/><rect x="1131.7" y="2064.3" width="9.5" height="45" fill="#fca88f"/><rect x="1140.8" y="2064.3" width="9.5" height="45" fill="#c5acf6"/><rect x="1149.9" y="2064.3" width="9.5" height="45" fill="#b392f7"/><rect x="1159.1" y="2064.3" width="9.5" height="45" fill="#f7ddd5"/><rect x="1168.2" y="2064.3" width="9.5" height="45" fill="#fd8f72"/><rect x="1177.3" y="2064.3" width="9.5" height="45" fill="#e7e4ef"/><rect x="1186.4" y="2064.3" width="9.5" height="45" fill="#fca88f"/><rect x="1195.5" y="2064.3" width="9.5" height="45" fill="#f2e7e4"/><rect x="1204.6" y="2064.3" width="9.5" height="45" fill="#e7e4ef"/><rect x="1213.8" y="2064.3" width="27.7" height="45" fill="#c5acf6"/><rect x="1241.1" y="2064.3" width="9.5" height="45" fill="#ececec"/><rect x="1250.2" y="2064.3" width="18.6" height="45" fill="#fcccc0"/><rect x="1268.4" y="2064.3" width="9.5" height="45" fill="#fca88f"/><rect x="1277.6" y="2064.3" width="9.5" height="45" fill="#a07cf8"/><rect x="1286.7" y="2064.3" width="9.5" height="45" fill="#6236fd"/><rect x="1295.8" y="2064.3" width="9.5" height="45" fill="#ff7353"/><rect x="1304.9" y="2064.3" width="9.5" height="45" fill="#ececec"/><rect x="1314" y="2064.3" width="9.5" height="45" fill="#fcccc0"/><rect x="1323.1" y="2064.3" width="9.5" height="45" fill="#e7e4ef"/><rect x="1332.3" y="2064.3" width="9.5" height="45" fill="#c5acf6"/><rect x="1341.4" y="2064.3" width="9.5" height="45" fill="#d5c6f5"/><rect x="1350.5" y="2064.3" width="9.5" height="45" fill="#c5acf6"/><rect x="1359.6" y="2064.3" width="9.5" height="45" fill="#f7ddd5"/><rect x="1368.7" y="2064.3" width="9.5" height="45" fill="#f2e7e4"/><rect x="1377.8" y="2064.3" width="9.5" height="45" fill="#8558fb"/><rect x="1386.9" y="2064.3" width="9.5" height="45" fill="#fca88f"/><rect x="1396.1" y="2064.3" width="9.5" height="45" fill="#a07cf8"/><rect x="1405.2" y="2064.3" width="9.5" height="45" fill="#f7ddd5"/><rect x="1414.3" y="2064.3" width="9.5" height="45" fill="#fcccc0"/><rect x="1423.4" y="2064.3" width="9.5" height="45" fill="#b392f7"/><rect x="1432.5" y="2064.3" width="9.5" height="45" fill="#a07cf8"/><rect x="1441.6" y="2064.3" width="9.5" height="45" fill="#d5c6f5"/><rect x="1450.7" y="2064.3" width="9.5" height="45" fill="#fcccc0"/><rect x="1459.9" y="2064.3" width="9.5" height="45" fill="#c5acf6"/><rect x="1469" y="2064.3" width="9.5" height="45" fill="#e7e4ef"/><rect x="1478.1" y="2064.3" width="9.5" height="45" fill="#f2e7e4"/><rect x="1487.2" y="2064.3" width="9.5" height="45" fill="#f7ddd5"/><rect x="1496.3" y="2064.3" width="9.5" height="45" fill="#fcccc0"/><rect x="1505.4" y="2064.3" width="9.5" height="45" fill="#c5acf6"/><rect x="1514.6" y="2064.3" width="9.5" height="45" fill="#0a00ff"/><rect x="1523.7" y="2064.3" width="9.5" height="45" fill="#d5c6f5"/><rect x="1532.8" y="2064.3" width="9.5" height="45" fill="#a07cf8"/><rect x="940.3" y="2108.9" width="9.5" height="45" fill="#f7ddd5"/><rect x="949.4" y="2108.9" width="9.5" height="45" fill="#e7e4ef"/><rect x="958.5" y="2108.9" width="9.5" height="45" fill="#fca88f"/><rect x="967.6" y="2108.9" width="9.5" height="45" fill="#fd8f72"/><rect x="976.8" y="2108.9" width="9.5" height="45" fill="#f7ddd5"/><rect x="985.9" y="2108.9" width="18.6" height="45" fill="#d5c6f5"/><rect x="1004.1" y="2108.9" width="9.5" height="45" fill="#fdbca9"/><rect x="1013.2" y="2108.9" width="9.5" height="45" fill="#e0d8f1"/><rect x="1022.3" y="2108.9" width="18.6" height="45" fill="#fcccc0"/><rect x="1040.6" y="2108.9" width="9.5" height="45" fill="#fdbca9"/><rect x="1049.7" y="2108.9" width="18.6" height="45" fill="#d5c6f5"/><rect x="1067.9" y="2108.9" width="9.5" height="45" fill="#e7e4ef"/><rect x="1077" y="2108.9" width="18.6" height="45" fill="#fcccc0"/><rect x="1095.3" y="2108.9" width="9.5" height="45" fill="#f2e7e4"/><rect x="1104.4" y="2108.9" width="9.5" height="45" fill="#ff7353"/><rect x="1113.5" y="2108.9" width="9.5" height="45" fill="#a07cf8"/><rect x="1122.6" y="2108.9" width="9.5" height="45" fill="#fca88f"/><rect x="1131.7" y="2108.9" width="9.5" height="45" fill="#c5acf6"/><rect x="1140.8" y="2108.9" width="18.6" height="45" fill="#fca88f"/><rect x="1159.1" y="2108.9" width="18.6" height="45" fill="#d5c6f5"/><rect x="1177.3" y="2108.9" width="9.5" height="45" fill="#c5acf6"/><rect x="1186.4" y="2108.9" width="9.5" height="45" fill="#e7e4ef"/><rect x="1195.5" y="2108.9" width="9.5" height="45" fill="#f7ddd5"/><rect x="1204.6" y="2108.9" width="9.5" height="45" fill="#fd8f72"/><rect x="1213.8" y="2108.9" width="9.5" height="45" fill="#fca88f"/><rect x="1222.9" y="2108.9" width="9.5" height="45" fill="#a07cf8"/><rect x="1232" y="2108.9" width="9.5" height="45" fill="#fdbca9"/><rect x="1241.1" y="2108.9" width="9.5" height="45" fill="#d5c6f5"/><rect x="1250.2" y="2108.9" width="9.5" height="45" fill="#f2e7e4"/><rect x="1259.3" y="2108.9" width="9.5" height="45" fill="#fcccc0"/><rect x="1268.4" y="2108.9" width="9.5" height="45" fill="#d5c6f5"/><rect x="1277.6" y="2108.9" width="9.5" height="45" fill="#f7ddd5"/><rect x="1286.7" y="2108.9" width="9.5" height="45" fill="#b392f7"/><rect x="1295.8" y="2108.9" width="9.5" height="45" fill="#f7ddd5"/><rect x="1304.9" y="2108.9" width="9.5" height="45" fill="#fcccc0"/><rect x="1314" y="2108.9" width="9.5" height="45" fill="#fdbca9"/><rect x="1323.1" y="2108.9" width="9.5" height="45" fill="#b392f7"/><rect x="1332.3" y="2108.9" width="9.5" height="45" fill="#e7e4ef"/><rect x="1341.4" y="2108.9" width="9.5" height="45" fill="#c5acf6"/><rect x="1350.5" y="2108.9" width="9.5" height="45" fill="#d5c6f5"/><rect x="1359.6" y="2108.9" width="9.5" height="45" fill="#fca88f"/><rect x="1368.7" y="2108.9" width="9.5" height="45" fill="#d5c6f5"/><rect x="1377.8" y="2108.9" width="9.5" height="45" fill="#ff7353"/><rect x="1386.9" y="2108.9" width="9.5" height="45" fill="#fca88f"/><rect x="1396.1" y="2108.9" width="9.5" height="45" fill="#f2e7e4"/><rect x="1405.2" y="2108.9" width="18.6" height="45" fill="#f7ddd5"/><rect x="1423.4" y="2108.9" width="9.5" height="45" fill="#f2e7e4"/><rect x="1432.5" y="2108.9" width="9.5" height="45" fill="#6236fd"/><rect x="1441.6" y="2108.9" width="9.5" height="45" fill="#f2e7e4"/><rect x="1450.7" y="2108.9" width="9.5" height="45" fill="#fcccc0"/><rect x="1459.9" y="2108.9" width="9.5" height="45" fill="#fdbca9"/><rect x="1469" y="2108.9" width="9.5" height="45" fill="#fcccc0"/><rect x="1478.1" y="2108.9" width="9.5" height="45" fill="#f7ddd5"/><rect x="1487.2" y="2108.9" width="18.6" height="45" fill="#6236fd"/><rect x="1505.4" y="2108.9" width="9.5" height="45" fill="#f7ddd5"/><rect x="1514.6" y="2108.9" width="9.5" height="45" fill="#b392f7"/><rect x="1523.7" y="2108.9" width="9.5" height="45" fill="#c5acf6"/><rect x="1532.8" y="2108.9" width="9.5" height="45" fill="#0a00ff"/><rect x="940.3" y="2153.6" width="9.5" height="45" fill="#fd8f72"/><rect x="949.4" y="2153.6" width="9.5" height="45" fill="#d5c6f5"/><rect x="958.5" y="2153.6" width="9.5" height="45" fill="#fd8f72"/><rect x="967.6" y="2153.6" width="9.5" height="45" fill="#fdbca9"/><rect x="976.8" y="2153.6" width="18.6" height="45" fill="#f2e7e4"/><rect x="995" y="2153.6" width="18.6" height="45" fill="#e7e4ef"/><rect x="1013.2" y="2153.6" width="18.6" height="45" fill="#fcccc0"/><rect x="1031.5" y="2153.6" width="9.5" height="45" fill="#fd8f72"/><rect x="1040.6" y="2153.6" width="18.6" height="45" fill="#e0d8f1"/><rect x="1058.8" y="2153.6" width="9.5" height="45" fill="#fcccc0"/><rect x="1067.9" y="2153.6" width="18.6" height="45" fill="#f2e7e4"/><rect x="1086.1" y="2153.6" width="9.5" height="45" fill="#fdbca9"/><rect x="1095.3" y="2153.6" width="9.5" height="45" fill="#b392f7"/><rect x="1104.4" y="2153.6" width="9.5" height="45" fill="#e7e4ef"/><rect x="1113.5" y="2153.6" width="9.5" height="45" fill="#fdbca9"/><rect x="1122.6" y="2153.6" width="9.5" height="45" fill="#d5c6f5"/><rect x="1131.7" y="2153.6" width="9.5" height="45" fill="#e0d8f1"/><rect x="1140.8" y="2153.6" width="18.6" height="45" fill="#f7ddd5"/><rect x="1159.1" y="2153.6" width="18.6" height="45" fill="#fd8f72"/><rect x="1177.3" y="2153.6" width="9.5" height="45" fill="#e7e4ef"/><rect x="1186.4" y="2153.6" width="18.6" height="45" fill="#fdbca9"/><rect x="1204.6" y="2153.6" width="9.5" height="45" fill="#f7ddd5"/><rect x="1213.8" y="2153.6" width="9.5" height="45" fill="#fdbca9"/><rect x="1222.9" y="2153.6" width="9.5" height="45" fill="#f2e7e4"/><rect x="1232" y="2153.6" width="9.5" height="45" fill="#b392f7"/><rect x="1241.1" y="2153.6" width="9.5" height="45" fill="#ff7353"/><rect x="1250.2" y="2153.6" width="9.5" height="45" fill="#c5acf6"/><rect x="1259.3" y="2153.6" width="9.5" height="45" fill="#fcccc0"/><rect x="1268.4" y="2153.6" width="9.5" height="45" fill="#fca88f"/><rect x="1277.6" y="2153.6" width="9.5" height="45" fill="#f7ddd5"/><rect x="1286.7" y="2153.6" width="9.5" height="45" fill="#0a00ff"/><rect x="1295.8" y="2153.6" width="18.6" height="45" fill="#fcccc0"/><rect x="1314" y="2153.6" width="9.5" height="45" fill="#c5acf6"/><rect x="1323.1" y="2153.6" width="9.5" height="45" fill="#e0d8f1"/><rect x="1332.3" y="2153.6" width="9.5" height="45" fill="#f2e7e4"/><rect x="1341.4" y="2153.6" width="9.5" height="45" fill="#e0d8f1"/><rect x="1350.5" y="2153.6" width="9.5" height="45" fill="#f7ddd5"/><rect x="1359.6" y="2153.6" width="9.5" height="45" fill="#c5acf6"/><rect x="1368.7" y="2153.6" width="9.5" height="45" fill="#e0d8f1"/><rect x="1377.8" y="2153.6" width="9.5" height="45" fill="#fca88f"/><rect x="1386.9" y="2153.6" width="18.6" height="45" fill="#f2e7e4"/><rect x="1405.2" y="2153.6" width="18.6" height="45" fill="#fcccc0"/><rect x="1423.4" y="2153.6" width="9.5" height="45" fill="#d5c6f5"/><rect x="1432.5" y="2153.6" width="9.5" height="45" fill="#8558fb"/><rect x="1441.6" y="2153.6" width="9.5" height="45" fill="#fca88f"/><rect x="1450.7" y="2153.6" width="9.5" height="45" fill="#ececec"/><rect x="1459.9" y="2153.6" width="9.5" height="45" fill="#6236fd"/><rect x="1469" y="2153.6" width="18.6" height="45" fill="#f7ddd5"/><rect x="1487.2" y="2153.6" width="9.5" height="45" fill="#6236fd"/><rect x="1496.3" y="2153.6" width="9.5" height="45" fill="#0a00ff"/><rect x="1505.4" y="2153.6" width="9.5" height="45" fill="#fdbca9"/><rect x="1514.6" y="2153.6" width="9.5" height="45" fill="#6236fd"/><rect x="1523.7" y="2153.6" width="9.5" height="45" fill="#d5c6f5"/><rect x="1532.8" y="2153.6" width="9.5" height="45" fill="#6236fd"/><rect x="940.3" y="2198.2" width="9.5" height="45" fill="#e7e4ef"/><rect x="949.4" y="2198.2" width="9.5" height="45" fill="#fd8f72"/><rect x="958.5" y="2198.2" width="9.5" height="45" fill="#a07cf8"/><rect x="967.6" y="2198.2" width="9.5" height="45" fill="#e7e4ef"/><rect x="976.8" y="2198.2" width="9.5" height="45" fill="#fdbca9"/><rect x="985.9" y="2198.2" width="9.5" height="45" fill="#f7ddd5"/><rect x="995" y="2198.2" width="9.5" height="45" fill="#e0d8f1"/><rect x="1004.1" y="2198.2" width="9.5" height="45" fill="#fdbca9"/><rect x="1013.2" y="2198.2" width="18.6" height="45" fill="#d5c6f5"/><rect x="1031.5" y="2198.2" width="9.5" height="45" fill="#fdbca9"/><rect x="1040.6" y="2198.2" width="18.6" height="45" fill="#ff7353"/><rect x="1058.8" y="2198.2" width="9.5" height="45" fill="#c5acf6"/><rect x="1067.9" y="2198.2" width="9.5" height="45" fill="#fca88f"/><rect x="1077" y="2198.2" width="9.5" height="45" fill="#a07cf8"/><rect x="1086.1" y="2198.2" width="18.6" height="45" fill="#d5c6f5"/><rect x="1104.4" y="2198.2" width="18.6" height="45" fill="#f7ddd5"/><rect x="1122.6" y="2198.2" width="9.5" height="45" fill="#c5acf6"/><rect x="1131.7" y="2198.2" width="9.5" height="45" fill="#f7ddd5"/><rect x="1140.8" y="2198.2" width="9.5" height="45" fill="#ff7353"/><rect x="1149.9" y="2198.2" width="9.5" height="45" fill="#fcccc0"/><rect x="1159.1" y="2198.2" width="9.5" height="45" fill="#fdbca9"/><rect x="1168.2" y="2198.2" width="9.5" height="45" fill="#ff4d2e"/><rect x="1177.3" y="2198.2" width="9.5" height="45" fill="#d5c6f5"/><rect x="1186.4" y="2198.2" width="9.5" height="45" fill="#e0d8f1"/><rect x="1195.5" y="2198.2" width="9.5" height="45" fill="#fdbca9"/><rect x="1204.6" y="2198.2" width="9.5" height="45" fill="#fcccc0"/><rect x="1213.8" y="2198.2" width="9.5" height="45" fill="#ff7353"/><rect x="1222.9" y="2198.2" width="9.5" height="45" fill="#e0d8f1"/><rect x="1232" y="2198.2" width="9.5" height="45" fill="#fd8f72"/><rect x="1241.1" y="2198.2" width="9.5" height="45" fill="#ececec"/><rect x="1250.2" y="2198.2" width="18.6" height="45" fill="#fcccc0"/><rect x="1268.4" y="2198.2" width="9.5" height="45" fill="#f7ddd5"/><rect x="1277.6" y="2198.2" width="18.6" height="45" fill="#c5acf6"/><rect x="1295.8" y="2198.2" width="9.5" height="45" fill="#e7e4ef"/><rect x="1304.9" y="2198.2" width="9.5" height="45" fill="#fcccc0"/><rect x="1314" y="2198.2" width="9.5" height="45" fill="#d5c6f5"/><rect x="1323.1" y="2198.2" width="9.5" height="45" fill="#e0d8f1"/><rect x="1332.3" y="2198.2" width="9.5" height="45" fill="#f7ddd5"/><rect x="1341.4" y="2198.2" width="9.5" height="45" fill="#c5acf6"/><rect x="1350.5" y="2198.2" width="9.5" height="45" fill="#8558fb"/><rect x="1359.6" y="2198.2" width="9.5" height="45" fill="#fcccc0"/><rect x="1368.7" y="2198.2" width="9.5" height="45" fill="#e0d8f1"/><rect x="1377.8" y="2198.2" width="9.5" height="45" fill="#fca88f"/><rect x="1386.9" y="2198.2" width="9.5" height="45" fill="#e7e4ef"/><rect x="1396.1" y="2198.2" width="9.5" height="45" fill="#fcccc0"/><rect x="1405.2" y="2198.2" width="9.5" height="45" fill="#e7e4ef"/><rect x="1414.3" y="2198.2" width="9.5" height="45" fill="#f7ddd5"/><rect x="1423.4" y="2198.2" width="9.5" height="45" fill="#8558fb"/><rect x="1432.5" y="2198.2" width="9.5" height="45" fill="#d5c6f5"/><rect x="1441.6" y="2198.2" width="9.5" height="45" fill="#fdbca9"/><rect x="1450.7" y="2198.2" width="18.6" height="45" fill="#b392f7"/><rect x="1469" y="2198.2" width="9.5" height="45" fill="#e7e4ef"/><rect x="1478.1" y="2198.2" width="9.5" height="45" fill="#f7ddd5"/><rect x="1487.2" y="2198.2" width="9.5" height="45" fill="#e0d8f1"/><rect x="1496.3" y="2198.2" width="9.5" height="45" fill="#6236fd"/><rect x="1505.4" y="2198.2" width="9.5" height="45" fill="#f7ddd5"/><rect x="1514.6" y="2198.2" width="9.5" height="45" fill="#6236fd"/><rect x="1523.7" y="2198.2" width="9.5" height="45" fill="#8558fb"/><rect x="1532.8" y="2198.2" width="9.5" height="45" fill="#b392f7"/></g>
<g shape-rendering="crispEdges"><rect x="940.3" y="1762.2" width="9.5" height="27.4" fill="#fffcfe"/><rect x="949.4" y="1762.2" width="9.5" height="27.4" fill="#fffcfe"/><rect x="958.5" y="1762.2" width="9.5" height="27.4" fill="#fffcfe"/><rect x="967.6" y="1762.2" width="9.5" height="27.4" fill="#fffcfe"/><rect x="976.8" y="1762.2" width="9.5" height="27.4" fill="#fffbfe"/><rect x="985.9" y="1762.2" width="9.5" height="27.4" fill="#fffbfd"/><rect x="995" y="1762.2" width="9.5" height="27.4" fill="#fffafd"/><rect x="1004.1" y="1762.2" width="9.5" height="27.4" fill="#fff9fc"/><rect x="1013.2" y="1762.2" width="9.5" height="27.4" fill="#fff8fc"/><rect x="1022.3" y="1762.2" width="9.5" height="27.4" fill="#fff7fb"/><rect x="1031.5" y="1762.2" width="9.5" height="27.4" fill="#fef6fb"/><rect x="1040.6" y="1762.2" width="9.5" height="27.4" fill="#fef4fa"/><rect x="1049.7" y="1762.2" width="9.5" height="27.4" fill="#fef3fa"/><rect x="1058.8" y="1762.2" width="9.5" height="27.4" fill="#fef2f9"/><rect x="1067.9" y="1762.2" width="9.5" height="27.4" fill="#fef1f8"/><rect x="1077" y="1762.2" width="9.5" height="27.4" fill="#feeff8"/><rect x="1086.1" y="1762.2" width="9.5" height="27.4" fill="#feeef7"/><rect x="1095.3" y="1762.2" width="9.5" height="27.4" fill="#feedf7"/><rect x="1104.4" y="1762.2" width="9.5" height="27.4" fill="#feebf6"/><rect x="1113.5" y="1762.2" width="9.5" height="27.4" fill="#fdeaf5"/><rect x="1122.6" y="1762.2" width="9.5" height="27.4" fill="#fde9f4"/><rect x="1131.7" y="1762.2" width="9.5" height="27.4" fill="#fde7f4"/><rect x="1140.8" y="1762.2" width="9.5" height="27.4" fill="#fde6f3"/><rect x="1149.9" y="1762.2" width="9.5" height="27.4" fill="#fde4f2"/><rect x="1159.1" y="1762.2" width="9.5" height="27.4" fill="#fde3f2"/><rect x="1168.2" y="1762.2" width="9.5" height="27.4" fill="#fde1f1"/><rect x="1177.3" y="1762.2" width="9.5" height="27.4" fill="#fde0f0"/><rect x="1186.4" y="1762.2" width="9.5" height="27.4" fill="#fddeef"/><rect x="1195.5" y="1762.2" width="9.5" height="27.4" fill="#fcddef"/><rect x="1204.6" y="1762.2" width="9.5" height="27.4" fill="#fcdbee"/><rect x="1213.8" y="1762.2" width="9.5" height="27.4" fill="#fcd9ed"/><rect x="1222.9" y="1762.2" width="9.5" height="27.4" fill="#fcd8ec"/><rect x="1232" y="1762.2" width="9.5" height="27.4" fill="#fcd6eb"/><rect x="1241.1" y="1762.2" width="9.5" height="27.4" fill="#fcd4eb"/><rect x="1250.2" y="1762.2" width="9.5" height="27.4" fill="#fcd3ea"/><rect x="1259.3" y="1762.2" width="9.5" height="27.4" fill="#fbd1e9"/><rect x="1268.4" y="1762.2" width="9.5" height="27.4" fill="#fbcfe8"/><rect x="1277.6" y="1762.2" width="9.5" height="27.4" fill="#fbcee7"/><rect x="1286.7" y="1762.2" width="9.5" height="27.4" fill="#fbcce7"/><rect x="1295.8" y="1762.2" width="9.5" height="27.4" fill="#fbcae6"/><rect x="1304.9" y="1762.2" width="9.5" height="27.4" fill="#fbc9e5"/><rect x="1314" y="1762.2" width="9.5" height="27.4" fill="#fbc7e4"/><rect x="1323.1" y="1762.2" width="9.5" height="27.4" fill="#fac5e3"/><rect x="1332.3" y="1762.2" width="9.5" height="27.4" fill="#fac3e2"/><rect x="1341.4" y="1762.2" width="9.5" height="27.4" fill="#fac2e1"/><rect x="1350.5" y="1762.2" width="9.5" height="27.4" fill="#fac0e1"/><rect x="1359.6" y="1762.2" width="9.5" height="27.4" fill="#fabee0"/><rect x="1368.7" y="1762.2" width="9.5" height="27.4" fill="#fabcdf"/><rect x="1377.8" y="1762.2" width="9.5" height="27.4" fill="#fabade"/><rect x="1386.9" y="1762.2" width="9.5" height="27.4" fill="#f9b9dd"/><rect x="1396.1" y="1762.2" width="9.5" height="27.4" fill="#f9b7dc"/><rect x="1405.2" y="1762.2" width="9.5" height="27.4" fill="#f9b5db"/><rect x="1414.3" y="1762.2" width="9.5" height="27.4" fill="#f9b3da"/><rect x="1423.4" y="1762.2" width="9.5" height="27.4" fill="#f9b1d9"/><rect x="1432.5" y="1762.2" width="9.5" height="27.4" fill="#f9afd8"/><rect x="1441.6" y="1762.2" width="9.5" height="27.4" fill="#f8add8"/><rect x="1450.7" y="1762.2" width="9.5" height="27.4" fill="#f8abd7"/><rect x="1459.9" y="1762.2" width="9.5" height="27.4" fill="#f8aad6"/><rect x="1469" y="1762.2" width="9.5" height="27.4" fill="#f8a8d5"/><rect x="1478.1" y="1762.2" width="9.5" height="27.4" fill="#f8a6d4"/><rect x="1487.2" y="1762.2" width="9.5" height="27.4" fill="#f8a4d3"/><rect x="1496.3" y="1762.2" width="9.5" height="27.4" fill="#f7a2d2"/><rect x="1505.4" y="1762.2" width="9.5" height="27.4" fill="#f7a0d1"/><rect x="1514.6" y="1762.2" width="9.5" height="27.4" fill="#f79ed0"/><rect x="1523.7" y="1762.2" width="9.5" height="27.4" fill="#f79ccf"/><rect x="1532.8" y="1762.2" width="9.5" height="27.4" fill="#ee4fb5"/></g>
<text x="1553.3" y="1782.1" font-size="25" textLength="146" lengthAdjust="spacingAndGlyphs">PDX (<tspan font-style="italic">n</tspan> = 66)</text>
<text x="1553.2" y="1828.1" font-size="25">TTF2</text>
<text x="1553.2" y="1872.7" font-size="25">MIPEP</text>
<text x="1553.2" y="1917.4" font-size="25">SMARCD1</text>
<text x="1553.2" y="1962" font-size="25">ARF4</text>
<text x="1553.2" y="2006.6" font-size="25">TRA2B</text>
<text x="1553.2" y="2051.2" font-size="25">FERMT2</text>
<text x="1553.2" y="2095.8" font-size="25">MDC1</text>
<text x="1553.2" y="2140.4" font-size="25">GATAD2A</text>
<text x="1553.2" y="2185.1" font-size="25">EMC4</text>
<text x="1553.2" y="2229.7" font-size="25">TRMT5</text>
<text x="1249.6" y="1670" font-size="24.5" text-anchor="middle" textLength="129.8" lengthAdjust="spacingAndGlyphs">Cetuximab</text>
<rect x="1149.3" y="1682.4" width="283.3" height="31.4" fill="url(#gh)"/>
<path d="M1160.8 1682.4v10M1160.8 1703.8v10M1249 1682.4v10M1249 1703.8v10M1336.9 1682.4v10M1336.9 1703.8v10M1425.1 1682.4v10M1425.1 1703.8v10" stroke="#fff" stroke-width="1.4"/>
<text x="1445" y="1707.3" font-size="25" textLength="181.7" lengthAdjust="spacingAndGlyphs">PDX size (mm<tspan dy="-10" font-size="16">3</tspan><tspan dy="10">)</tspan></text>
<text x="1073.5" y="1740.6" font-size="22" text-anchor="middle" textLength="52.3" lengthAdjust="spacingAndGlyphs">−500</text>
<text x="1160.8" y="1740.6" font-size="22" text-anchor="middle" textLength="13.3" lengthAdjust="spacingAndGlyphs">0</text>
<text x="1249" y="1740.6" font-size="22" text-anchor="middle" textLength="41.8" lengthAdjust="spacingAndGlyphs">500</text>
<text x="1336.9" y="1740.6" font-size="22" text-anchor="middle" textLength="58.3" lengthAdjust="spacingAndGlyphs">1,000</text>
<text x="1425.1" y="1740.6" font-size="22" text-anchor="middle" textLength="56.3" lengthAdjust="spacingAndGlyphs">1,500</text>
<rect x="1265.3" y="2253" width="123" height="27" fill="url(#gk)"/>
<path d="M1268 2253v6M1268 2274v6M1297.6 2253v6M1297.6 2274v6M1326.2 2253v6M1326.2 2274v6M1355.2 2253v6M1355.2 2274v6M1384.7 2253v6M1384.7 2274v6" stroke="#fff" stroke-width="1.3"/>
<text x="1269.5" y="2303.6" font-size="21.5" text-anchor="middle">4</text>
<text x="1297.6" y="2303.6" font-size="21.5" text-anchor="middle">2</text>
<text x="1326.2" y="2303.6" font-size="21.5" text-anchor="middle">0</text>
<text x="1355.2" y="2303.6" font-size="21.5" text-anchor="middle">−2</text>
<text x="1383.3" y="2303.6" font-size="21.5" text-anchor="middle">−4</text>
<text x="1408" y="2273.5" font-size="24.5" textLength="104.5" lengthAdjust="spacingAndGlyphs">Essential</text>
<line x1="1422" y1="2288.1" x2="1503.2" y2="2288.1" stroke="#46536b" stroke-width="3.6"/>
<polygon points="1513.9,2288.1 1498.9,2294.6 1502.2,2288.1 1498.9,2281.6" fill="#46536b"/>
</svg></body></html>
